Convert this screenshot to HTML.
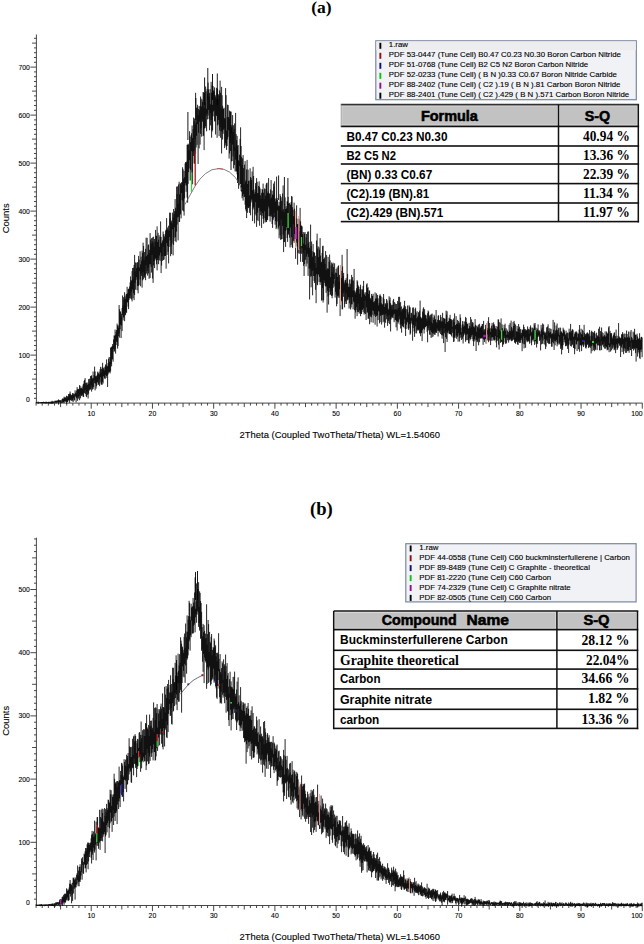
<!DOCTYPE html>
<html><head><meta charset="utf-8"><style>
html,body{margin:0;padding:0;background:#fff;}
body{width:644px;height:944px;overflow:hidden;position:relative;}
svg{position:absolute;left:0;top:0;}
text{font-family:"Liberation Sans",sans-serif;}
.tl{font-size:6.8px;fill:#000;stroke:#000;stroke-width:0.1px;}
.at{font-size:9.45px;fill:#000;stroke:#000;stroke-width:0.1px;}
.ttl{font-family:"Liberation Serif",serif;font-weight:bold;font-size:17px;fill:#000;}
.lg{font-size:7.85px;fill:#000;stroke:#000;stroke-width:0.12px;}
.th{font-weight:bold;font-size:13.8px;fill:#000;stroke:#000;stroke-width:0.55px;}
.tr{font-weight:bold;font-size:13.6px;fill:#000;}
.trs{font-family:"Liberation Serif",serif;font-weight:bold;font-size:14.6px;fill:#000;}
.tv{font-family:"Liberation Serif",serif;font-weight:bold;font-size:14.5px;fill:#000;}
</style></head><body>
<svg width="644" height="944" viewBox="0 0 644 944">
<line x1="36.4" y1="34.5" x2="36.4" y2="403.1" stroke="#333" stroke-width="0.9"/>
<line x1="36.1" y1="403.1" x2="642.5" y2="403.1" stroke="#333" stroke-width="0.9"/>
<line x1="34.0" y1="398.30" x2="36.4" y2="398.30" stroke="#333" stroke-width="0.9"/>
<line x1="34.0" y1="393.50" x2="36.4" y2="393.50" stroke="#333" stroke-width="0.9"/>
<line x1="34.0" y1="388.70" x2="36.4" y2="388.70" stroke="#333" stroke-width="0.9"/>
<line x1="34.0" y1="383.90" x2="36.4" y2="383.90" stroke="#333" stroke-width="0.9"/>
<line x1="32.1" y1="379.10" x2="36.4" y2="379.10" stroke="#333" stroke-width="0.9"/>
<line x1="34.0" y1="374.30" x2="36.4" y2="374.30" stroke="#333" stroke-width="0.9"/>
<line x1="34.0" y1="369.50" x2="36.4" y2="369.50" stroke="#333" stroke-width="0.9"/>
<line x1="34.0" y1="364.70" x2="36.4" y2="364.70" stroke="#333" stroke-width="0.9"/>
<line x1="34.0" y1="359.90" x2="36.4" y2="359.90" stroke="#333" stroke-width="0.9"/>
<line x1="30.4" y1="355.10" x2="36.4" y2="355.10" stroke="#333" stroke-width="0.9"/>
<line x1="34.0" y1="350.30" x2="36.4" y2="350.30" stroke="#333" stroke-width="0.9"/>
<line x1="34.0" y1="345.50" x2="36.4" y2="345.50" stroke="#333" stroke-width="0.9"/>
<line x1="34.0" y1="340.70" x2="36.4" y2="340.70" stroke="#333" stroke-width="0.9"/>
<line x1="34.0" y1="335.90" x2="36.4" y2="335.90" stroke="#333" stroke-width="0.9"/>
<line x1="32.1" y1="331.10" x2="36.4" y2="331.10" stroke="#333" stroke-width="0.9"/>
<line x1="34.0" y1="326.30" x2="36.4" y2="326.30" stroke="#333" stroke-width="0.9"/>
<line x1="34.0" y1="321.50" x2="36.4" y2="321.50" stroke="#333" stroke-width="0.9"/>
<line x1="34.0" y1="316.70" x2="36.4" y2="316.70" stroke="#333" stroke-width="0.9"/>
<line x1="34.0" y1="311.90" x2="36.4" y2="311.90" stroke="#333" stroke-width="0.9"/>
<line x1="30.4" y1="307.10" x2="36.4" y2="307.10" stroke="#333" stroke-width="0.9"/>
<line x1="34.0" y1="302.30" x2="36.4" y2="302.30" stroke="#333" stroke-width="0.9"/>
<line x1="34.0" y1="297.50" x2="36.4" y2="297.50" stroke="#333" stroke-width="0.9"/>
<line x1="34.0" y1="292.70" x2="36.4" y2="292.70" stroke="#333" stroke-width="0.9"/>
<line x1="34.0" y1="287.90" x2="36.4" y2="287.90" stroke="#333" stroke-width="0.9"/>
<line x1="32.1" y1="283.10" x2="36.4" y2="283.10" stroke="#333" stroke-width="0.9"/>
<line x1="34.0" y1="278.30" x2="36.4" y2="278.30" stroke="#333" stroke-width="0.9"/>
<line x1="34.0" y1="273.50" x2="36.4" y2="273.50" stroke="#333" stroke-width="0.9"/>
<line x1="34.0" y1="268.70" x2="36.4" y2="268.70" stroke="#333" stroke-width="0.9"/>
<line x1="34.0" y1="263.90" x2="36.4" y2="263.90" stroke="#333" stroke-width="0.9"/>
<line x1="30.4" y1="259.10" x2="36.4" y2="259.10" stroke="#333" stroke-width="0.9"/>
<line x1="34.0" y1="254.30" x2="36.4" y2="254.30" stroke="#333" stroke-width="0.9"/>
<line x1="34.0" y1="249.50" x2="36.4" y2="249.50" stroke="#333" stroke-width="0.9"/>
<line x1="34.0" y1="244.70" x2="36.4" y2="244.70" stroke="#333" stroke-width="0.9"/>
<line x1="34.0" y1="239.90" x2="36.4" y2="239.90" stroke="#333" stroke-width="0.9"/>
<line x1="32.1" y1="235.10" x2="36.4" y2="235.10" stroke="#333" stroke-width="0.9"/>
<line x1="34.0" y1="230.30" x2="36.4" y2="230.30" stroke="#333" stroke-width="0.9"/>
<line x1="34.0" y1="225.50" x2="36.4" y2="225.50" stroke="#333" stroke-width="0.9"/>
<line x1="34.0" y1="220.70" x2="36.4" y2="220.70" stroke="#333" stroke-width="0.9"/>
<line x1="34.0" y1="215.90" x2="36.4" y2="215.90" stroke="#333" stroke-width="0.9"/>
<line x1="30.4" y1="211.10" x2="36.4" y2="211.10" stroke="#333" stroke-width="0.9"/>
<line x1="34.0" y1="206.30" x2="36.4" y2="206.30" stroke="#333" stroke-width="0.9"/>
<line x1="34.0" y1="201.50" x2="36.4" y2="201.50" stroke="#333" stroke-width="0.9"/>
<line x1="34.0" y1="196.70" x2="36.4" y2="196.70" stroke="#333" stroke-width="0.9"/>
<line x1="34.0" y1="191.90" x2="36.4" y2="191.90" stroke="#333" stroke-width="0.9"/>
<line x1="32.1" y1="187.10" x2="36.4" y2="187.10" stroke="#333" stroke-width="0.9"/>
<line x1="34.0" y1="182.30" x2="36.4" y2="182.30" stroke="#333" stroke-width="0.9"/>
<line x1="34.0" y1="177.50" x2="36.4" y2="177.50" stroke="#333" stroke-width="0.9"/>
<line x1="34.0" y1="172.70" x2="36.4" y2="172.70" stroke="#333" stroke-width="0.9"/>
<line x1="34.0" y1="167.90" x2="36.4" y2="167.90" stroke="#333" stroke-width="0.9"/>
<line x1="30.4" y1="163.10" x2="36.4" y2="163.10" stroke="#333" stroke-width="0.9"/>
<line x1="34.0" y1="158.30" x2="36.4" y2="158.30" stroke="#333" stroke-width="0.9"/>
<line x1="34.0" y1="153.50" x2="36.4" y2="153.50" stroke="#333" stroke-width="0.9"/>
<line x1="34.0" y1="148.70" x2="36.4" y2="148.70" stroke="#333" stroke-width="0.9"/>
<line x1="34.0" y1="143.90" x2="36.4" y2="143.90" stroke="#333" stroke-width="0.9"/>
<line x1="32.1" y1="139.10" x2="36.4" y2="139.10" stroke="#333" stroke-width="0.9"/>
<line x1="34.0" y1="134.30" x2="36.4" y2="134.30" stroke="#333" stroke-width="0.9"/>
<line x1="34.0" y1="129.50" x2="36.4" y2="129.50" stroke="#333" stroke-width="0.9"/>
<line x1="34.0" y1="124.70" x2="36.4" y2="124.70" stroke="#333" stroke-width="0.9"/>
<line x1="34.0" y1="119.90" x2="36.4" y2="119.90" stroke="#333" stroke-width="0.9"/>
<line x1="30.4" y1="115.10" x2="36.4" y2="115.10" stroke="#333" stroke-width="0.9"/>
<line x1="34.0" y1="110.30" x2="36.4" y2="110.30" stroke="#333" stroke-width="0.9"/>
<line x1="34.0" y1="105.50" x2="36.4" y2="105.50" stroke="#333" stroke-width="0.9"/>
<line x1="34.0" y1="100.70" x2="36.4" y2="100.70" stroke="#333" stroke-width="0.9"/>
<line x1="34.0" y1="95.90" x2="36.4" y2="95.90" stroke="#333" stroke-width="0.9"/>
<line x1="32.1" y1="91.10" x2="36.4" y2="91.10" stroke="#333" stroke-width="0.9"/>
<line x1="34.0" y1="86.30" x2="36.4" y2="86.30" stroke="#333" stroke-width="0.9"/>
<line x1="34.0" y1="81.50" x2="36.4" y2="81.50" stroke="#333" stroke-width="0.9"/>
<line x1="34.0" y1="76.70" x2="36.4" y2="76.70" stroke="#333" stroke-width="0.9"/>
<line x1="34.0" y1="71.90" x2="36.4" y2="71.90" stroke="#333" stroke-width="0.9"/>
<line x1="30.4" y1="67.10" x2="36.4" y2="67.10" stroke="#333" stroke-width="0.9"/>
<line x1="34.0" y1="62.30" x2="36.4" y2="62.30" stroke="#333" stroke-width="0.9"/>
<line x1="34.0" y1="57.50" x2="36.4" y2="57.50" stroke="#333" stroke-width="0.9"/>
<line x1="34.0" y1="52.70" x2="36.4" y2="52.70" stroke="#333" stroke-width="0.9"/>
<line x1="34.0" y1="47.90" x2="36.4" y2="47.90" stroke="#333" stroke-width="0.9"/>
<line x1="32.1" y1="43.10" x2="36.4" y2="43.10" stroke="#333" stroke-width="0.9"/>
<line x1="34.0" y1="38.30" x2="36.4" y2="38.30" stroke="#333" stroke-width="0.9"/>
<line x1="36.10" y1="403.1" x2="36.10" y2="405.6" stroke="#333" stroke-width="0.9"/>
<line x1="42.22" y1="403.1" x2="42.22" y2="405.6" stroke="#333" stroke-width="0.9"/>
<line x1="48.35" y1="403.1" x2="48.35" y2="405.6" stroke="#333" stroke-width="0.9"/>
<line x1="54.47" y1="403.1" x2="54.47" y2="405.6" stroke="#333" stroke-width="0.9"/>
<line x1="60.59" y1="403.1" x2="60.59" y2="407.1" stroke="#333" stroke-width="0.9"/>
<line x1="66.72" y1="403.1" x2="66.72" y2="405.6" stroke="#333" stroke-width="0.9"/>
<line x1="72.84" y1="403.1" x2="72.84" y2="405.6" stroke="#333" stroke-width="0.9"/>
<line x1="78.96" y1="403.1" x2="78.96" y2="405.6" stroke="#333" stroke-width="0.9"/>
<line x1="85.08" y1="403.1" x2="85.08" y2="405.6" stroke="#333" stroke-width="0.9"/>
<line x1="91.21" y1="403.1" x2="91.21" y2="408.7" stroke="#333" stroke-width="0.9"/>
<line x1="97.33" y1="403.1" x2="97.33" y2="405.6" stroke="#333" stroke-width="0.9"/>
<line x1="103.45" y1="403.1" x2="103.45" y2="405.6" stroke="#333" stroke-width="0.9"/>
<line x1="109.58" y1="403.1" x2="109.58" y2="405.6" stroke="#333" stroke-width="0.9"/>
<line x1="115.70" y1="403.1" x2="115.70" y2="405.6" stroke="#333" stroke-width="0.9"/>
<line x1="121.82" y1="403.1" x2="121.82" y2="407.1" stroke="#333" stroke-width="0.9"/>
<line x1="127.94" y1="403.1" x2="127.94" y2="405.6" stroke="#333" stroke-width="0.9"/>
<line x1="134.07" y1="403.1" x2="134.07" y2="405.6" stroke="#333" stroke-width="0.9"/>
<line x1="140.19" y1="403.1" x2="140.19" y2="405.6" stroke="#333" stroke-width="0.9"/>
<line x1="146.31" y1="403.1" x2="146.31" y2="405.6" stroke="#333" stroke-width="0.9"/>
<line x1="152.44" y1="403.1" x2="152.44" y2="408.7" stroke="#333" stroke-width="0.9"/>
<line x1="158.56" y1="403.1" x2="158.56" y2="405.6" stroke="#333" stroke-width="0.9"/>
<line x1="164.68" y1="403.1" x2="164.68" y2="405.6" stroke="#333" stroke-width="0.9"/>
<line x1="170.81" y1="403.1" x2="170.81" y2="405.6" stroke="#333" stroke-width="0.9"/>
<line x1="176.93" y1="403.1" x2="176.93" y2="405.6" stroke="#333" stroke-width="0.9"/>
<line x1="183.05" y1="403.1" x2="183.05" y2="407.1" stroke="#333" stroke-width="0.9"/>
<line x1="189.18" y1="403.1" x2="189.18" y2="405.6" stroke="#333" stroke-width="0.9"/>
<line x1="195.30" y1="403.1" x2="195.30" y2="405.6" stroke="#333" stroke-width="0.9"/>
<line x1="201.42" y1="403.1" x2="201.42" y2="405.6" stroke="#333" stroke-width="0.9"/>
<line x1="207.54" y1="403.1" x2="207.54" y2="405.6" stroke="#333" stroke-width="0.9"/>
<line x1="213.67" y1="403.1" x2="213.67" y2="408.7" stroke="#333" stroke-width="0.9"/>
<line x1="219.79" y1="403.1" x2="219.79" y2="405.6" stroke="#333" stroke-width="0.9"/>
<line x1="225.91" y1="403.1" x2="225.91" y2="405.6" stroke="#333" stroke-width="0.9"/>
<line x1="232.04" y1="403.1" x2="232.04" y2="405.6" stroke="#333" stroke-width="0.9"/>
<line x1="238.16" y1="403.1" x2="238.16" y2="405.6" stroke="#333" stroke-width="0.9"/>
<line x1="244.28" y1="403.1" x2="244.28" y2="407.1" stroke="#333" stroke-width="0.9"/>
<line x1="250.41" y1="403.1" x2="250.41" y2="405.6" stroke="#333" stroke-width="0.9"/>
<line x1="256.53" y1="403.1" x2="256.53" y2="405.6" stroke="#333" stroke-width="0.9"/>
<line x1="262.65" y1="403.1" x2="262.65" y2="405.6" stroke="#333" stroke-width="0.9"/>
<line x1="268.77" y1="403.1" x2="268.77" y2="405.6" stroke="#333" stroke-width="0.9"/>
<line x1="274.90" y1="403.1" x2="274.90" y2="408.7" stroke="#333" stroke-width="0.9"/>
<line x1="281.02" y1="403.1" x2="281.02" y2="405.6" stroke="#333" stroke-width="0.9"/>
<line x1="287.14" y1="403.1" x2="287.14" y2="405.6" stroke="#333" stroke-width="0.9"/>
<line x1="293.27" y1="403.1" x2="293.27" y2="405.6" stroke="#333" stroke-width="0.9"/>
<line x1="299.39" y1="403.1" x2="299.39" y2="405.6" stroke="#333" stroke-width="0.9"/>
<line x1="305.51" y1="403.1" x2="305.51" y2="407.1" stroke="#333" stroke-width="0.9"/>
<line x1="311.64" y1="403.1" x2="311.64" y2="405.6" stroke="#333" stroke-width="0.9"/>
<line x1="317.76" y1="403.1" x2="317.76" y2="405.6" stroke="#333" stroke-width="0.9"/>
<line x1="323.88" y1="403.1" x2="323.88" y2="405.6" stroke="#333" stroke-width="0.9"/>
<line x1="330.00" y1="403.1" x2="330.00" y2="405.6" stroke="#333" stroke-width="0.9"/>
<line x1="336.13" y1="403.1" x2="336.13" y2="408.7" stroke="#333" stroke-width="0.9"/>
<line x1="342.25" y1="403.1" x2="342.25" y2="405.6" stroke="#333" stroke-width="0.9"/>
<line x1="348.37" y1="403.1" x2="348.37" y2="405.6" stroke="#333" stroke-width="0.9"/>
<line x1="354.50" y1="403.1" x2="354.50" y2="405.6" stroke="#333" stroke-width="0.9"/>
<line x1="360.62" y1="403.1" x2="360.62" y2="405.6" stroke="#333" stroke-width="0.9"/>
<line x1="366.74" y1="403.1" x2="366.74" y2="407.1" stroke="#333" stroke-width="0.9"/>
<line x1="372.87" y1="403.1" x2="372.87" y2="405.6" stroke="#333" stroke-width="0.9"/>
<line x1="378.99" y1="403.1" x2="378.99" y2="405.6" stroke="#333" stroke-width="0.9"/>
<line x1="385.11" y1="403.1" x2="385.11" y2="405.6" stroke="#333" stroke-width="0.9"/>
<line x1="391.23" y1="403.1" x2="391.23" y2="405.6" stroke="#333" stroke-width="0.9"/>
<line x1="397.36" y1="403.1" x2="397.36" y2="408.7" stroke="#333" stroke-width="0.9"/>
<line x1="403.48" y1="403.1" x2="403.48" y2="405.6" stroke="#333" stroke-width="0.9"/>
<line x1="409.60" y1="403.1" x2="409.60" y2="405.6" stroke="#333" stroke-width="0.9"/>
<line x1="415.73" y1="403.1" x2="415.73" y2="405.6" stroke="#333" stroke-width="0.9"/>
<line x1="421.85" y1="403.1" x2="421.85" y2="405.6" stroke="#333" stroke-width="0.9"/>
<line x1="427.97" y1="403.1" x2="427.97" y2="407.1" stroke="#333" stroke-width="0.9"/>
<line x1="434.10" y1="403.1" x2="434.10" y2="405.6" stroke="#333" stroke-width="0.9"/>
<line x1="440.22" y1="403.1" x2="440.22" y2="405.6" stroke="#333" stroke-width="0.9"/>
<line x1="446.34" y1="403.1" x2="446.34" y2="405.6" stroke="#333" stroke-width="0.9"/>
<line x1="452.46" y1="403.1" x2="452.46" y2="405.6" stroke="#333" stroke-width="0.9"/>
<line x1="458.59" y1="403.1" x2="458.59" y2="408.7" stroke="#333" stroke-width="0.9"/>
<line x1="464.71" y1="403.1" x2="464.71" y2="405.6" stroke="#333" stroke-width="0.9"/>
<line x1="470.83" y1="403.1" x2="470.83" y2="405.6" stroke="#333" stroke-width="0.9"/>
<line x1="476.96" y1="403.1" x2="476.96" y2="405.6" stroke="#333" stroke-width="0.9"/>
<line x1="483.08" y1="403.1" x2="483.08" y2="405.6" stroke="#333" stroke-width="0.9"/>
<line x1="489.20" y1="403.1" x2="489.20" y2="407.1" stroke="#333" stroke-width="0.9"/>
<line x1="495.33" y1="403.1" x2="495.33" y2="405.6" stroke="#333" stroke-width="0.9"/>
<line x1="501.45" y1="403.1" x2="501.45" y2="405.6" stroke="#333" stroke-width="0.9"/>
<line x1="507.57" y1="403.1" x2="507.57" y2="405.6" stroke="#333" stroke-width="0.9"/>
<line x1="513.69" y1="403.1" x2="513.69" y2="405.6" stroke="#333" stroke-width="0.9"/>
<line x1="519.82" y1="403.1" x2="519.82" y2="408.7" stroke="#333" stroke-width="0.9"/>
<line x1="525.94" y1="403.1" x2="525.94" y2="405.6" stroke="#333" stroke-width="0.9"/>
<line x1="532.06" y1="403.1" x2="532.06" y2="405.6" stroke="#333" stroke-width="0.9"/>
<line x1="538.19" y1="403.1" x2="538.19" y2="405.6" stroke="#333" stroke-width="0.9"/>
<line x1="544.31" y1="403.1" x2="544.31" y2="405.6" stroke="#333" stroke-width="0.9"/>
<line x1="550.43" y1="403.1" x2="550.43" y2="407.1" stroke="#333" stroke-width="0.9"/>
<line x1="556.56" y1="403.1" x2="556.56" y2="405.6" stroke="#333" stroke-width="0.9"/>
<line x1="562.68" y1="403.1" x2="562.68" y2="405.6" stroke="#333" stroke-width="0.9"/>
<line x1="568.80" y1="403.1" x2="568.80" y2="405.6" stroke="#333" stroke-width="0.9"/>
<line x1="574.92" y1="403.1" x2="574.92" y2="405.6" stroke="#333" stroke-width="0.9"/>
<line x1="581.05" y1="403.1" x2="581.05" y2="408.7" stroke="#333" stroke-width="0.9"/>
<line x1="587.17" y1="403.1" x2="587.17" y2="405.6" stroke="#333" stroke-width="0.9"/>
<line x1="593.29" y1="403.1" x2="593.29" y2="405.6" stroke="#333" stroke-width="0.9"/>
<line x1="599.42" y1="403.1" x2="599.42" y2="405.6" stroke="#333" stroke-width="0.9"/>
<line x1="605.54" y1="403.1" x2="605.54" y2="405.6" stroke="#333" stroke-width="0.9"/>
<line x1="611.66" y1="403.1" x2="611.66" y2="407.1" stroke="#333" stroke-width="0.9"/>
<line x1="617.79" y1="403.1" x2="617.79" y2="405.6" stroke="#333" stroke-width="0.9"/>
<line x1="623.91" y1="403.1" x2="623.91" y2="405.6" stroke="#333" stroke-width="0.9"/>
<line x1="630.03" y1="403.1" x2="630.03" y2="405.6" stroke="#333" stroke-width="0.9"/>
<line x1="636.15" y1="403.1" x2="636.15" y2="405.6" stroke="#333" stroke-width="0.9"/>
<line x1="642.28" y1="403.1" x2="642.28" y2="408.7" stroke="#333" stroke-width="0.9"/>
<text x="29.9" y="402.1" text-anchor="end" class="tl">0</text>
<text x="29.9" y="357.6" text-anchor="end" class="tl">100</text>
<text x="29.9" y="309.6" text-anchor="end" class="tl">200</text>
<text x="29.9" y="261.6" text-anchor="end" class="tl">300</text>
<text x="29.9" y="213.6" text-anchor="end" class="tl">400</text>
<text x="29.9" y="165.6" text-anchor="end" class="tl">500</text>
<text x="29.9" y="117.6" text-anchor="end" class="tl">600</text>
<text x="29.9" y="69.6" text-anchor="end" class="tl">700</text>
<text x="91.2" y="415.7" text-anchor="middle" class="tl">10</text>
<text x="152.4" y="415.7" text-anchor="middle" class="tl">20</text>
<text x="213.7" y="415.7" text-anchor="middle" class="tl">30</text>
<text x="274.9" y="415.7" text-anchor="middle" class="tl">40</text>
<text x="336.1" y="415.7" text-anchor="middle" class="tl">50</text>
<text x="397.4" y="415.7" text-anchor="middle" class="tl">60</text>
<text x="458.6" y="415.7" text-anchor="middle" class="tl">70</text>
<text x="519.8" y="415.7" text-anchor="middle" class="tl">80</text>
<text x="581.0" y="415.7" text-anchor="middle" class="tl">90</text>
<text x="642.6" y="415.7" text-anchor="end" class="tl">100</text>
<line x1="36.4" y1="537.7" x2="36.4" y2="905.5" stroke="#333" stroke-width="0.9"/>
<line x1="36.1" y1="905.5" x2="642.5" y2="905.5" stroke="#333" stroke-width="0.9"/>
<line x1="34.0" y1="899.18" x2="36.4" y2="899.18" stroke="#333" stroke-width="0.9"/>
<line x1="34.0" y1="892.86" x2="36.4" y2="892.86" stroke="#333" stroke-width="0.9"/>
<line x1="34.0" y1="886.54" x2="36.4" y2="886.54" stroke="#333" stroke-width="0.9"/>
<line x1="34.0" y1="880.22" x2="36.4" y2="880.22" stroke="#333" stroke-width="0.9"/>
<line x1="32.1" y1="873.90" x2="36.4" y2="873.90" stroke="#333" stroke-width="0.9"/>
<line x1="34.0" y1="867.58" x2="36.4" y2="867.58" stroke="#333" stroke-width="0.9"/>
<line x1="34.0" y1="861.26" x2="36.4" y2="861.26" stroke="#333" stroke-width="0.9"/>
<line x1="34.0" y1="854.94" x2="36.4" y2="854.94" stroke="#333" stroke-width="0.9"/>
<line x1="34.0" y1="848.62" x2="36.4" y2="848.62" stroke="#333" stroke-width="0.9"/>
<line x1="30.4" y1="842.30" x2="36.4" y2="842.30" stroke="#333" stroke-width="0.9"/>
<line x1="34.0" y1="835.98" x2="36.4" y2="835.98" stroke="#333" stroke-width="0.9"/>
<line x1="34.0" y1="829.66" x2="36.4" y2="829.66" stroke="#333" stroke-width="0.9"/>
<line x1="34.0" y1="823.34" x2="36.4" y2="823.34" stroke="#333" stroke-width="0.9"/>
<line x1="34.0" y1="817.02" x2="36.4" y2="817.02" stroke="#333" stroke-width="0.9"/>
<line x1="32.1" y1="810.70" x2="36.4" y2="810.70" stroke="#333" stroke-width="0.9"/>
<line x1="34.0" y1="804.38" x2="36.4" y2="804.38" stroke="#333" stroke-width="0.9"/>
<line x1="34.0" y1="798.06" x2="36.4" y2="798.06" stroke="#333" stroke-width="0.9"/>
<line x1="34.0" y1="791.74" x2="36.4" y2="791.74" stroke="#333" stroke-width="0.9"/>
<line x1="34.0" y1="785.42" x2="36.4" y2="785.42" stroke="#333" stroke-width="0.9"/>
<line x1="30.4" y1="779.10" x2="36.4" y2="779.10" stroke="#333" stroke-width="0.9"/>
<line x1="34.0" y1="772.78" x2="36.4" y2="772.78" stroke="#333" stroke-width="0.9"/>
<line x1="34.0" y1="766.46" x2="36.4" y2="766.46" stroke="#333" stroke-width="0.9"/>
<line x1="34.0" y1="760.14" x2="36.4" y2="760.14" stroke="#333" stroke-width="0.9"/>
<line x1="34.0" y1="753.82" x2="36.4" y2="753.82" stroke="#333" stroke-width="0.9"/>
<line x1="32.1" y1="747.50" x2="36.4" y2="747.50" stroke="#333" stroke-width="0.9"/>
<line x1="34.0" y1="741.18" x2="36.4" y2="741.18" stroke="#333" stroke-width="0.9"/>
<line x1="34.0" y1="734.86" x2="36.4" y2="734.86" stroke="#333" stroke-width="0.9"/>
<line x1="34.0" y1="728.54" x2="36.4" y2="728.54" stroke="#333" stroke-width="0.9"/>
<line x1="34.0" y1="722.22" x2="36.4" y2="722.22" stroke="#333" stroke-width="0.9"/>
<line x1="30.4" y1="715.90" x2="36.4" y2="715.90" stroke="#333" stroke-width="0.9"/>
<line x1="34.0" y1="709.58" x2="36.4" y2="709.58" stroke="#333" stroke-width="0.9"/>
<line x1="34.0" y1="703.26" x2="36.4" y2="703.26" stroke="#333" stroke-width="0.9"/>
<line x1="34.0" y1="696.94" x2="36.4" y2="696.94" stroke="#333" stroke-width="0.9"/>
<line x1="34.0" y1="690.62" x2="36.4" y2="690.62" stroke="#333" stroke-width="0.9"/>
<line x1="32.1" y1="684.30" x2="36.4" y2="684.30" stroke="#333" stroke-width="0.9"/>
<line x1="34.0" y1="677.98" x2="36.4" y2="677.98" stroke="#333" stroke-width="0.9"/>
<line x1="34.0" y1="671.66" x2="36.4" y2="671.66" stroke="#333" stroke-width="0.9"/>
<line x1="34.0" y1="665.34" x2="36.4" y2="665.34" stroke="#333" stroke-width="0.9"/>
<line x1="34.0" y1="659.02" x2="36.4" y2="659.02" stroke="#333" stroke-width="0.9"/>
<line x1="30.4" y1="652.70" x2="36.4" y2="652.70" stroke="#333" stroke-width="0.9"/>
<line x1="34.0" y1="646.38" x2="36.4" y2="646.38" stroke="#333" stroke-width="0.9"/>
<line x1="34.0" y1="640.06" x2="36.4" y2="640.06" stroke="#333" stroke-width="0.9"/>
<line x1="34.0" y1="633.74" x2="36.4" y2="633.74" stroke="#333" stroke-width="0.9"/>
<line x1="34.0" y1="627.42" x2="36.4" y2="627.42" stroke="#333" stroke-width="0.9"/>
<line x1="32.1" y1="621.10" x2="36.4" y2="621.10" stroke="#333" stroke-width="0.9"/>
<line x1="34.0" y1="614.78" x2="36.4" y2="614.78" stroke="#333" stroke-width="0.9"/>
<line x1="34.0" y1="608.46" x2="36.4" y2="608.46" stroke="#333" stroke-width="0.9"/>
<line x1="34.0" y1="602.14" x2="36.4" y2="602.14" stroke="#333" stroke-width="0.9"/>
<line x1="34.0" y1="595.82" x2="36.4" y2="595.82" stroke="#333" stroke-width="0.9"/>
<line x1="30.4" y1="589.50" x2="36.4" y2="589.50" stroke="#333" stroke-width="0.9"/>
<line x1="34.0" y1="583.18" x2="36.4" y2="583.18" stroke="#333" stroke-width="0.9"/>
<line x1="34.0" y1="576.86" x2="36.4" y2="576.86" stroke="#333" stroke-width="0.9"/>
<line x1="34.0" y1="570.54" x2="36.4" y2="570.54" stroke="#333" stroke-width="0.9"/>
<line x1="34.0" y1="564.22" x2="36.4" y2="564.22" stroke="#333" stroke-width="0.9"/>
<line x1="32.1" y1="557.90" x2="36.4" y2="557.90" stroke="#333" stroke-width="0.9"/>
<line x1="34.0" y1="551.58" x2="36.4" y2="551.58" stroke="#333" stroke-width="0.9"/>
<line x1="34.0" y1="545.26" x2="36.4" y2="545.26" stroke="#333" stroke-width="0.9"/>
<line x1="34.0" y1="538.94" x2="36.4" y2="538.94" stroke="#333" stroke-width="0.9"/>
<line x1="36.10" y1="905.5" x2="36.10" y2="908.0" stroke="#333" stroke-width="0.9"/>
<line x1="42.22" y1="905.5" x2="42.22" y2="908.0" stroke="#333" stroke-width="0.9"/>
<line x1="48.35" y1="905.5" x2="48.35" y2="908.0" stroke="#333" stroke-width="0.9"/>
<line x1="54.47" y1="905.5" x2="54.47" y2="908.0" stroke="#333" stroke-width="0.9"/>
<line x1="60.59" y1="905.5" x2="60.59" y2="909.5" stroke="#333" stroke-width="0.9"/>
<line x1="66.72" y1="905.5" x2="66.72" y2="908.0" stroke="#333" stroke-width="0.9"/>
<line x1="72.84" y1="905.5" x2="72.84" y2="908.0" stroke="#333" stroke-width="0.9"/>
<line x1="78.96" y1="905.5" x2="78.96" y2="908.0" stroke="#333" stroke-width="0.9"/>
<line x1="85.08" y1="905.5" x2="85.08" y2="908.0" stroke="#333" stroke-width="0.9"/>
<line x1="91.21" y1="905.5" x2="91.21" y2="911.1" stroke="#333" stroke-width="0.9"/>
<line x1="97.33" y1="905.5" x2="97.33" y2="908.0" stroke="#333" stroke-width="0.9"/>
<line x1="103.45" y1="905.5" x2="103.45" y2="908.0" stroke="#333" stroke-width="0.9"/>
<line x1="109.58" y1="905.5" x2="109.58" y2="908.0" stroke="#333" stroke-width="0.9"/>
<line x1="115.70" y1="905.5" x2="115.70" y2="908.0" stroke="#333" stroke-width="0.9"/>
<line x1="121.82" y1="905.5" x2="121.82" y2="909.5" stroke="#333" stroke-width="0.9"/>
<line x1="127.94" y1="905.5" x2="127.94" y2="908.0" stroke="#333" stroke-width="0.9"/>
<line x1="134.07" y1="905.5" x2="134.07" y2="908.0" stroke="#333" stroke-width="0.9"/>
<line x1="140.19" y1="905.5" x2="140.19" y2="908.0" stroke="#333" stroke-width="0.9"/>
<line x1="146.31" y1="905.5" x2="146.31" y2="908.0" stroke="#333" stroke-width="0.9"/>
<line x1="152.44" y1="905.5" x2="152.44" y2="911.1" stroke="#333" stroke-width="0.9"/>
<line x1="158.56" y1="905.5" x2="158.56" y2="908.0" stroke="#333" stroke-width="0.9"/>
<line x1="164.68" y1="905.5" x2="164.68" y2="908.0" stroke="#333" stroke-width="0.9"/>
<line x1="170.81" y1="905.5" x2="170.81" y2="908.0" stroke="#333" stroke-width="0.9"/>
<line x1="176.93" y1="905.5" x2="176.93" y2="908.0" stroke="#333" stroke-width="0.9"/>
<line x1="183.05" y1="905.5" x2="183.05" y2="909.5" stroke="#333" stroke-width="0.9"/>
<line x1="189.18" y1="905.5" x2="189.18" y2="908.0" stroke="#333" stroke-width="0.9"/>
<line x1="195.30" y1="905.5" x2="195.30" y2="908.0" stroke="#333" stroke-width="0.9"/>
<line x1="201.42" y1="905.5" x2="201.42" y2="908.0" stroke="#333" stroke-width="0.9"/>
<line x1="207.54" y1="905.5" x2="207.54" y2="908.0" stroke="#333" stroke-width="0.9"/>
<line x1="213.67" y1="905.5" x2="213.67" y2="911.1" stroke="#333" stroke-width="0.9"/>
<line x1="219.79" y1="905.5" x2="219.79" y2="908.0" stroke="#333" stroke-width="0.9"/>
<line x1="225.91" y1="905.5" x2="225.91" y2="908.0" stroke="#333" stroke-width="0.9"/>
<line x1="232.04" y1="905.5" x2="232.04" y2="908.0" stroke="#333" stroke-width="0.9"/>
<line x1="238.16" y1="905.5" x2="238.16" y2="908.0" stroke="#333" stroke-width="0.9"/>
<line x1="244.28" y1="905.5" x2="244.28" y2="909.5" stroke="#333" stroke-width="0.9"/>
<line x1="250.41" y1="905.5" x2="250.41" y2="908.0" stroke="#333" stroke-width="0.9"/>
<line x1="256.53" y1="905.5" x2="256.53" y2="908.0" stroke="#333" stroke-width="0.9"/>
<line x1="262.65" y1="905.5" x2="262.65" y2="908.0" stroke="#333" stroke-width="0.9"/>
<line x1="268.77" y1="905.5" x2="268.77" y2="908.0" stroke="#333" stroke-width="0.9"/>
<line x1="274.90" y1="905.5" x2="274.90" y2="911.1" stroke="#333" stroke-width="0.9"/>
<line x1="281.02" y1="905.5" x2="281.02" y2="908.0" stroke="#333" stroke-width="0.9"/>
<line x1="287.14" y1="905.5" x2="287.14" y2="908.0" stroke="#333" stroke-width="0.9"/>
<line x1="293.27" y1="905.5" x2="293.27" y2="908.0" stroke="#333" stroke-width="0.9"/>
<line x1="299.39" y1="905.5" x2="299.39" y2="908.0" stroke="#333" stroke-width="0.9"/>
<line x1="305.51" y1="905.5" x2="305.51" y2="909.5" stroke="#333" stroke-width="0.9"/>
<line x1="311.64" y1="905.5" x2="311.64" y2="908.0" stroke="#333" stroke-width="0.9"/>
<line x1="317.76" y1="905.5" x2="317.76" y2="908.0" stroke="#333" stroke-width="0.9"/>
<line x1="323.88" y1="905.5" x2="323.88" y2="908.0" stroke="#333" stroke-width="0.9"/>
<line x1="330.00" y1="905.5" x2="330.00" y2="908.0" stroke="#333" stroke-width="0.9"/>
<line x1="336.13" y1="905.5" x2="336.13" y2="911.1" stroke="#333" stroke-width="0.9"/>
<line x1="342.25" y1="905.5" x2="342.25" y2="908.0" stroke="#333" stroke-width="0.9"/>
<line x1="348.37" y1="905.5" x2="348.37" y2="908.0" stroke="#333" stroke-width="0.9"/>
<line x1="354.50" y1="905.5" x2="354.50" y2="908.0" stroke="#333" stroke-width="0.9"/>
<line x1="360.62" y1="905.5" x2="360.62" y2="908.0" stroke="#333" stroke-width="0.9"/>
<line x1="366.74" y1="905.5" x2="366.74" y2="909.5" stroke="#333" stroke-width="0.9"/>
<line x1="372.87" y1="905.5" x2="372.87" y2="908.0" stroke="#333" stroke-width="0.9"/>
<line x1="378.99" y1="905.5" x2="378.99" y2="908.0" stroke="#333" stroke-width="0.9"/>
<line x1="385.11" y1="905.5" x2="385.11" y2="908.0" stroke="#333" stroke-width="0.9"/>
<line x1="391.23" y1="905.5" x2="391.23" y2="908.0" stroke="#333" stroke-width="0.9"/>
<line x1="397.36" y1="905.5" x2="397.36" y2="911.1" stroke="#333" stroke-width="0.9"/>
<line x1="403.48" y1="905.5" x2="403.48" y2="908.0" stroke="#333" stroke-width="0.9"/>
<line x1="409.60" y1="905.5" x2="409.60" y2="908.0" stroke="#333" stroke-width="0.9"/>
<line x1="415.73" y1="905.5" x2="415.73" y2="908.0" stroke="#333" stroke-width="0.9"/>
<line x1="421.85" y1="905.5" x2="421.85" y2="908.0" stroke="#333" stroke-width="0.9"/>
<line x1="427.97" y1="905.5" x2="427.97" y2="909.5" stroke="#333" stroke-width="0.9"/>
<line x1="434.10" y1="905.5" x2="434.10" y2="908.0" stroke="#333" stroke-width="0.9"/>
<line x1="440.22" y1="905.5" x2="440.22" y2="908.0" stroke="#333" stroke-width="0.9"/>
<line x1="446.34" y1="905.5" x2="446.34" y2="908.0" stroke="#333" stroke-width="0.9"/>
<line x1="452.46" y1="905.5" x2="452.46" y2="908.0" stroke="#333" stroke-width="0.9"/>
<line x1="458.59" y1="905.5" x2="458.59" y2="911.1" stroke="#333" stroke-width="0.9"/>
<line x1="464.71" y1="905.5" x2="464.71" y2="908.0" stroke="#333" stroke-width="0.9"/>
<line x1="470.83" y1="905.5" x2="470.83" y2="908.0" stroke="#333" stroke-width="0.9"/>
<line x1="476.96" y1="905.5" x2="476.96" y2="908.0" stroke="#333" stroke-width="0.9"/>
<line x1="483.08" y1="905.5" x2="483.08" y2="908.0" stroke="#333" stroke-width="0.9"/>
<line x1="489.20" y1="905.5" x2="489.20" y2="909.5" stroke="#333" stroke-width="0.9"/>
<line x1="495.33" y1="905.5" x2="495.33" y2="908.0" stroke="#333" stroke-width="0.9"/>
<line x1="501.45" y1="905.5" x2="501.45" y2="908.0" stroke="#333" stroke-width="0.9"/>
<line x1="507.57" y1="905.5" x2="507.57" y2="908.0" stroke="#333" stroke-width="0.9"/>
<line x1="513.69" y1="905.5" x2="513.69" y2="908.0" stroke="#333" stroke-width="0.9"/>
<line x1="519.82" y1="905.5" x2="519.82" y2="911.1" stroke="#333" stroke-width="0.9"/>
<line x1="525.94" y1="905.5" x2="525.94" y2="908.0" stroke="#333" stroke-width="0.9"/>
<line x1="532.06" y1="905.5" x2="532.06" y2="908.0" stroke="#333" stroke-width="0.9"/>
<line x1="538.19" y1="905.5" x2="538.19" y2="908.0" stroke="#333" stroke-width="0.9"/>
<line x1="544.31" y1="905.5" x2="544.31" y2="908.0" stroke="#333" stroke-width="0.9"/>
<line x1="550.43" y1="905.5" x2="550.43" y2="909.5" stroke="#333" stroke-width="0.9"/>
<line x1="556.56" y1="905.5" x2="556.56" y2="908.0" stroke="#333" stroke-width="0.9"/>
<line x1="562.68" y1="905.5" x2="562.68" y2="908.0" stroke="#333" stroke-width="0.9"/>
<line x1="568.80" y1="905.5" x2="568.80" y2="908.0" stroke="#333" stroke-width="0.9"/>
<line x1="574.92" y1="905.5" x2="574.92" y2="908.0" stroke="#333" stroke-width="0.9"/>
<line x1="581.05" y1="905.5" x2="581.05" y2="911.1" stroke="#333" stroke-width="0.9"/>
<line x1="587.17" y1="905.5" x2="587.17" y2="908.0" stroke="#333" stroke-width="0.9"/>
<line x1="593.29" y1="905.5" x2="593.29" y2="908.0" stroke="#333" stroke-width="0.9"/>
<line x1="599.42" y1="905.5" x2="599.42" y2="908.0" stroke="#333" stroke-width="0.9"/>
<line x1="605.54" y1="905.5" x2="605.54" y2="908.0" stroke="#333" stroke-width="0.9"/>
<line x1="611.66" y1="905.5" x2="611.66" y2="909.5" stroke="#333" stroke-width="0.9"/>
<line x1="617.79" y1="905.5" x2="617.79" y2="908.0" stroke="#333" stroke-width="0.9"/>
<line x1="623.91" y1="905.5" x2="623.91" y2="908.0" stroke="#333" stroke-width="0.9"/>
<line x1="630.03" y1="905.5" x2="630.03" y2="908.0" stroke="#333" stroke-width="0.9"/>
<line x1="636.15" y1="905.5" x2="636.15" y2="908.0" stroke="#333" stroke-width="0.9"/>
<line x1="642.28" y1="905.5" x2="642.28" y2="911.1" stroke="#333" stroke-width="0.9"/>
<text x="29.9" y="904.5" text-anchor="end" class="tl">0</text>
<text x="29.9" y="844.8" text-anchor="end" class="tl">100</text>
<text x="29.9" y="781.6" text-anchor="end" class="tl">200</text>
<text x="29.9" y="718.4" text-anchor="end" class="tl">300</text>
<text x="29.9" y="655.2" text-anchor="end" class="tl">400</text>
<text x="29.9" y="592.0" text-anchor="end" class="tl">500</text>
<text x="91.2" y="918.1" text-anchor="middle" class="tl">10</text>
<text x="152.4" y="918.1" text-anchor="middle" class="tl">20</text>
<text x="213.7" y="918.1" text-anchor="middle" class="tl">30</text>
<text x="274.9" y="918.1" text-anchor="middle" class="tl">40</text>
<text x="336.1" y="918.1" text-anchor="middle" class="tl">50</text>
<text x="397.4" y="918.1" text-anchor="middle" class="tl">60</text>
<text x="458.6" y="918.1" text-anchor="middle" class="tl">70</text>
<text x="519.8" y="918.1" text-anchor="middle" class="tl">80</text>
<text x="581.0" y="918.1" text-anchor="middle" class="tl">90</text>
<text x="642.6" y="918.1" text-anchor="end" class="tl">100</text>
<text x="9" y="233.2" transform="rotate(-90 9 233.2)" class="at">Counts</text>
<text x="9" y="735.8" transform="rotate(-90 9 735.8)" class="at">Counts</text>
<text x="239.6" y="438.3" class="at">2Theta (Coupled TwoTheta/Theta) WL=1.54060</text>
<text x="239.6" y="940.3" class="at">2Theta (Coupled TwoTheta/Theta) WL=1.54060</text>
<path d="M36.10 402.3V403.2M36.60 402.5V403.0M37.10 402.5V403.0M37.60 402.3V403.3M38.10 401.6V402.9M38.60 402.3V403.7M39.10 402.1V402.8M39.60 402.3V402.8M40.10 402.4V403.1M40.60 402.2V403.1M41.10 402.2V402.8M41.60 402.0V403.3M42.10 402.1V403.1M42.60 402.0V403.1M43.10 402.4V403.1M43.60 401.7V403.2M44.10 402.0V403.1M44.60 402.0V403.2M45.10 402.4V403.5M45.60 402.2V403.0M46.10 401.5V403.9M46.60 402.1V402.9M47.10 402.2V402.8M47.60 402.1V403.3M48.10 402.1V402.9M48.60 402.1V403.4M49.10 401.6V403.1M49.60 402.3V403.6M50.10 402.3V402.7M50.60 401.7V403.2M51.10 401.9V404.1M51.60 401.6V403.2M52.10 400.8V403.1M52.60 401.7V403.6M53.10 401.5V403.6M53.60 401.5V402.6M54.10 401.9V402.8M54.60 401.3V402.6M55.10 400.6V402.5M55.60 401.0V402.7M56.10 400.7V403.5M56.60 400.7V402.5M57.10 401.2V402.5M57.60 400.3V402.4M58.10 400.6V402.7M58.60 399.4V404.7M59.10 400.0V402.6M59.60 400.7V402.1M60.10 400.0V402.6M60.60 400.5V403.4M61.10 400.2V401.4M61.60 400.7V403.0M62.10 399.1V400.9M62.60 398.4V402.9M63.10 399.1V402.2M63.60 398.5V402.4M64.10 396.7V403.1M64.60 397.9V401.3M65.10 396.9V401.6M65.60 397.7V401.4M66.10 398.0V401.8M66.60 395.7V403.7M67.10 396.0V401.9M67.60 397.2V402.2M68.10 396.3V401.2M68.60 394.0V400.1M69.10 394.5V399.8M69.60 393.6V402.8M70.10 391.5V400.5M70.60 394.1V400.0M71.10 396.0V398.6M71.60 395.0V400.7M72.10 394.6V401.2M72.60 393.0V400.0M73.10 394.7V402.0M73.60 393.4V398.3M74.10 395.6V400.8M74.60 393.9V400.0M75.10 390.3V396.2M75.60 392.6V396.6M76.10 393.7V402.4M76.60 390.5V398.2M77.10 387.1V397.5M77.60 389.2V400.8M78.10 389.5V397.1M78.60 388.9V398.7M79.10 389.4V396.0M79.60 385.1V400.2M80.10 385.9V394.4M80.60 388.1V398.3M81.10 388.8V395.7M81.60 388.0V395.7M82.10 386.5V395.8M82.60 388.8V394.6M83.10 384.5V396.9M83.60 383.7V397.0M84.10 380.9V392.6M84.60 379.9V393.3M85.10 378.1V389.8M85.60 383.1V393.9M86.10 385.5V396.2M86.60 382.8V397.1M87.10 382.4V391.7M87.60 384.9V394.8M88.10 383.8V398.5M88.60 379.1V393.8M89.10 383.6V389.1M89.60 378.7V390.5M90.10 381.1V389.7M90.60 376.1V389.2M91.10 375.9V385.4M91.60 375.3V391.6M92.10 377.7V387.3M92.60 378.8V389.6M93.10 371.5V389.0M93.60 378.1V387.0M94.10 375.0V379.9M94.60 366.6V383.2M95.10 371.5V390.4M95.60 376.1V383.6M96.10 376.9V388.6M96.60 376.1V386.2M97.10 374.9V382.2M97.60 371.7V382.4M98.10 373.4V384.9M98.60 373.4V384.6M99.10 371.7V379.5M99.60 374.3V386.2M100.10 369.2V382.4M100.60 366.8V377.2M101.10 372.6V384.4M101.60 369.1V384.5M102.10 367.4V384.9M102.60 362.8V381.9M103.10 369.9V383.5M103.60 368.2V376.0M104.10 367.3V376.9M104.60 370.3V378.4M105.10 366.5V379.1M105.60 364.4V374.9M106.10 365.4V378.0M106.60 359.4V376.1M107.10 367.0V375.5M107.60 365.8V387.0M108.10 363.1V374.4M108.60 358.7V372.6M109.10 357.1V371.5M109.60 361.9V372.3M110.10 357.1V373.4M110.60 347.6V371.3M111.10 347.7V364.1M111.60 347.0V366.4M112.10 346.1V358.8M112.60 344.1V359.5M113.10 346.2V361.7M113.60 339.4V349.1M114.10 335.4V351.9M114.60 335.8V351.0M115.10 329.5V348.9M115.60 334.8V353.6M116.10 331.7V345.0M116.60 330.0V341.7M117.10 323.6V341.9M117.60 325.7V348.6M118.10 325.2V346.2M118.60 327.6V336.2M119.10 305.0V333.5M119.60 309.2V337.6M120.10 311.6V329.2M120.60 311.5V324.8M121.10 316.6V338.1M121.60 313.8V325.5M122.10 308.0V331.1M122.60 295.5V314.9M123.10 305.4V320.4M123.60 297.2V317.6M124.10 299.5V316.6M124.60 292.2V321.2M125.10 296.3V314.3M125.60 298.7V315.2M126.10 294.4V311.8M126.60 293.9V312.9M127.10 286.8V302.0M127.60 293.3V302.5M128.10 289.4V306.7M128.60 288.7V309.1M129.10 289.0V299.8M129.60 286.4V298.0M130.10 282.4V295.6M130.60 276.4V298.6M131.10 280.0V292.1M131.60 280.8V299.5M132.10 271.1V301.4M132.60 268.0V289.6M133.10 278.5V298.2M133.60 267.7V293.1M134.10 264.9V300.1M134.60 254.9V295.0M135.10 271.3V283.0M135.60 262.4V289.7M136.10 262.8V279.8M136.60 268.1V277.1M137.10 262.6V290.2M137.60 262.2V285.8M138.10 266.8V293.3M138.60 255.9V286.0M139.10 259.5V284.9M139.60 267.7V271.2M140.10 251.3V279.5M140.60 264.4V286.3M141.10 256.7V273.5M141.60 260.5V275.9M142.10 250.7V287.7M142.60 252.9V280.4M143.10 242.7V272.1M143.60 246.0V279.3M144.10 260.0V276.6M144.60 252.0V277.7M145.10 256.7V274.9M145.60 248.8V280.2M146.10 237.7V265.2M146.60 256.1V273.6M147.10 237.8V271.1M147.60 254.8V275.6M148.10 245.3V267.8M148.60 244.4V273.4M149.10 253.1V278.8M149.60 249.8V264.3M150.10 233.1V278.0M150.60 239.5V264.2M151.10 243.8V266.9M151.60 238.1V272.6M152.10 241.3V254.9M152.60 237.4V278.5M153.10 242.6V282.9M153.60 236.7V265.4M154.10 246.6V261.0M154.60 239.0V268.1M155.10 241.5V259.3M155.60 229.9V258.3M156.10 235.6V260.5M156.60 236.0V264.3M157.10 226.4V270.4M157.60 242.0V260.0M158.10 232.8V257.7M158.60 239.7V264.2M159.10 235.2V260.1M159.60 246.7V255.5M160.10 237.0V260.9M160.60 221.4V252.6M161.10 236.9V273.1M161.60 243.3V265.6M162.10 242.4V256.2M162.60 240.4V260.9M163.10 231.5V246.9M163.60 234.2V260.0M164.10 238.6V259.5M164.60 236.4V256.1M165.10 234.1V255.5M165.60 230.6V256.0M166.10 229.7V268.7M166.60 218.1V243.0M167.10 229.7V254.9M167.60 227.5V245.9M168.10 229.7V251.7M168.60 225.7V263.4M169.10 230.8V247.0M169.60 212.6V237.0M170.10 218.2V240.5M170.60 212.7V256.2M171.10 222.3V246.4M171.60 220.6V254.1M172.10 223.3V243.6M172.60 212.6V229.3M173.10 217.4V255.4M173.60 209.0V244.9M174.10 214.2V237.7M174.60 211.2V227.4M175.10 199.1V241.1M175.60 207.7V237.1M176.10 210.4V242.2M176.60 186.6V231.6M177.10 194.1V224.6M177.60 186.4V217.5M178.10 203.7V240.4M178.60 184.4V216.9M179.10 181.7V222.0M179.60 194.3V221.9M180.10 183.5V214.7M180.60 183.3V213.9M181.10 185.0V218.4M181.60 182.3V193.0M182.10 182.1V200.0M182.60 167.3V210.5M183.10 169.3V201.3M183.60 178.5V211.4M184.10 171.0V215.6M184.60 177.1V198.4M185.10 163.4V185.3M185.60 162.0V183.2M186.10 163.1V191.8M186.60 161.6V185.6M187.10 144.8V197.5M187.60 144.8V202.7M188.10 143.7V183.9M188.60 144.6V172.2M189.10 150.5V168.5M189.60 131.2V160.1M190.10 136.7V180.6M190.60 142.1V169.9M191.10 135.3V180.1M191.60 133.3V151.2M192.10 125.5V171.8M192.60 138.0V184.3M193.10 129.1V151.7M193.60 117.5V155.9M194.10 121.3V163.4M194.60 118.5V163.8M195.10 124.6V139.3M195.60 92.8V153.6M196.10 122.5V147.5M196.60 107.9V135.9M197.10 107.5V144.9M197.60 104.8V124.1M198.10 115.1V164.0M198.60 109.0V132.8M199.10 106.2V148.4M199.60 110.2V121.7M200.10 105.8V144.6M200.60 96.5V133.9M201.10 98.6V128.3M201.60 106.5V136.7M202.10 99.6V119.5M202.60 101.9V121.8M203.10 92.0V136.1M203.60 92.4V135.6M204.10 107.6V150.1M204.60 93.0V128.4M205.10 102.5V128.1M205.60 86.5V126.4M206.10 91.2V115.6M206.60 108.8V131.3M207.10 88.9V113.4M207.60 93.7V119.4M208.10 82.5V115.5M208.60 89.4V109.9M209.10 96.7V119.1M209.60 92.9V130.3M210.10 89.1V113.0M210.60 104.3V125.4M211.10 81.8V120.0M211.60 92.7V137.7M212.10 85.3V131.6M212.60 104.8V130.1M213.10 86.1V116.3M213.60 90.5V111.5M214.10 91.5V110.2M214.60 87.4V121.2M215.10 94.9V121.6M215.60 96.5V134.5M216.10 98.8V115.1M216.60 87.8V116.1M217.10 93.6V137.8M217.60 88.7V125.4M218.10 99.0V124.6M218.60 94.3V119.9M219.10 95.7V136.2M219.60 90.4V130.5M220.10 80.6V127.1M220.60 92.8V137.8M221.10 108.3V131.3M221.60 86.8V153.5M222.10 95.2V131.4M222.60 105.8V139.5M223.10 109.1V133.8M223.60 108.7V129.8M224.10 107.7V128.5M224.60 118.1V148.1M225.10 119.2V145.4M225.60 88.1V143.2M226.10 95.2V146.5M226.60 130.6V149.9M227.10 117.1V146.0M227.60 104.7V139.4M228.10 105.1V136.8M228.60 117.0V130.3M229.10 118.5V158.6M229.60 110.6V153.5M230.10 111.4V143.0M230.60 111.8V150.9M231.10 111.6V133.3M231.60 127.2V161.4M232.10 125.4V161.1M232.60 115.1V144.6M233.10 131.8V156.5M233.60 125.2V168.4M234.10 128.8V151.0M234.60 123.4V165.0M235.10 147.0V171.4M235.60 112.9V159.6M236.10 134.0V171.5M236.60 140.2V171.3M237.10 135.9V174.4M237.60 145.7V179.1M238.10 145.0V178.7M238.60 160.3V188.8M239.10 160.9V184.9M239.60 154.7V166.2M240.10 138.9V183.9M240.60 127.3V184.0M241.10 146.0V191.2M241.60 156.8V191.6M242.10 164.9V198.2M242.60 158.3V196.0M243.10 155.1V200.6M243.60 168.1V194.0M244.10 184.3V197.0M244.60 164.7V196.8M245.10 161.1V204.7M245.60 181.6V209.3M246.10 180.0V211.3M246.60 169.4V218.1M247.10 159.9V206.7M247.60 184.0V212.8M248.10 169.6V208.0M248.60 180.9V208.1M249.10 180.6V207.1M249.60 195.4V212.9M250.10 168.3V206.0M250.60 177.1V215.3M251.10 177.9V202.5M251.60 180.1V199.4M252.10 171.5V200.7M252.60 190.1V221.1M253.10 166.8V209.5M253.60 176.0V207.6M254.10 189.5V206.6M254.60 193.9V223.4M255.10 191.9V214.3M255.60 183.1V202.2M256.10 186.0V215.6M256.60 178.1V226.9M257.10 181.8V220.0M257.60 193.2V212.6M258.10 193.1V221.1M258.60 185.9V208.0M259.10 181.4V207.4M259.60 186.8V225.7M260.10 188.6V211.4M260.60 195.3V215.2M261.10 198.9V211.3M261.60 192.8V227.9M262.10 189.0V215.8M262.60 189.8V213.0M263.10 183.6V218.9M263.60 192.7V223.7M264.10 199.1V218.3M264.60 188.4V211.4M265.10 189.1V222.5M265.60 195.6V220.3M266.10 184.6V221.9M266.60 183.2V222.1M267.10 182.7V219.7M267.60 193.1V220.1M268.10 191.5V216.3M268.60 178.1V206.4M269.10 193.2V208.5M269.60 193.8V216.2M270.10 199.2V221.7M270.60 189.4V216.3M271.10 180.1V214.5M271.60 197.5V216.7M272.10 190.7V224.0M272.60 194.6V227.9M273.10 194.7V220.2M273.60 183.5V218.3M274.10 186.6V212.8M274.60 181.3V217.1M275.10 198.3V224.7M275.60 201.6V221.1M276.10 199.1V229.1M276.60 176.6V227.6M277.10 197.9V221.6M277.60 200.0V210.6M278.10 206.6V229.3M278.60 205.4V227.5M279.10 201.9V238.3M279.60 206.0V225.7M280.10 194.1V235.4M280.60 196.0V239.8M281.10 197.3V219.7M281.60 200.9V239.4M282.10 210.7V239.0M282.60 193.5V225.9M283.10 185.4V234.7M283.60 209.2V252.1M284.10 212.2V242.2M284.60 204.1V242.0M285.10 197.4V231.2M285.60 209.0V246.9M286.10 206.1V230.1M286.60 208.4V227.1M287.10 201.3V238.0M287.60 201.5V241.9M288.10 196.9V235.1M288.60 203.5V233.9M289.10 213.7V230.9M289.60 202.9V237.7M290.10 204.3V247.5M290.60 205.0V227.6M291.10 202.0V244.9M291.60 196.0V237.1M292.10 196.7V247.0M292.60 207.2V248.1M293.10 209.8V224.1M293.60 216.0V240.9M294.10 202.6V242.8M294.60 208.7V234.1M295.10 217.9V239.1M295.60 220.4V258.8M296.10 218.2V243.2M296.60 205.3V241.7M297.10 224.4V246.5M297.60 224.0V264.7M298.10 218.6V252.9M298.60 224.1V242.2M299.10 219.2V253.8M299.60 231.2V249.0M300.10 207.9V253.4M300.60 221.4V261.8M301.10 225.3V244.3M301.60 225.9V253.8M302.10 226.4V248.3M302.60 234.3V262.0M303.10 232.0V252.8M303.60 243.6V265.9M304.10 232.3V276.0M304.60 234.0V264.1M305.10 232.2V249.9M305.60 244.7V259.8M306.10 237.3V266.5M306.60 234.0V256.7M307.10 247.6V263.6M307.60 231.7V253.9M308.10 243.4V275.9M308.60 231.4V256.9M309.10 241.9V268.7M309.60 247.7V299.5M310.10 249.6V268.4M310.60 224.6V276.6M311.10 246.1V287.3M311.60 241.5V276.2M312.10 251.1V271.1M312.60 256.7V295.3M313.10 244.0V270.4M313.60 251.9V276.0M314.10 252.6V280.9M314.60 252.6V283.0M315.10 263.0V275.9M315.60 255.8V289.8M316.10 267.7V303.2M316.60 240.5V274.1M317.10 233.6V284.6M317.60 248.6V285.2M318.10 246.3V275.3M318.60 257.1V274.0M319.10 247.3V282.0M319.60 249.8V277.0M320.10 238.1V284.9M320.60 255.6V282.4M321.10 262.7V281.5M321.60 261.8V300.6M322.10 253.0V300.3M322.60 246.1V288.1M323.10 245.7V302.6M323.60 259.1V300.3M324.10 258.9V280.1M324.60 257.5V282.8M325.10 263.8V285.6M325.60 251.1V286.5M326.10 270.0V292.8M326.60 255.1V286.5M327.10 269.4V312.7M327.60 268.3V290.8M328.10 256.9V296.4M328.60 268.7V304.5M329.10 262.0V291.9M329.60 254.5V288.1M330.10 260.3V295.1M330.60 277.1V294.5M331.10 265.4V290.7M331.60 262.5V296.0M332.10 272.3V298.3M332.60 263.8V295.5M333.10 262.6V287.9M333.60 267.0V283.9M334.10 274.2V286.5M334.60 263.3V279.4M335.10 280.2V297.6M335.60 272.6V291.8M336.10 268.9V294.6M336.60 273.0V306.3M337.10 267.5V303.9M337.60 276.9V295.8M338.10 266.2V297.6M338.60 265.4V295.7M339.10 281.6V297.8M339.60 274.8V289.1M340.10 277.5V316.1M340.60 279.6V303.8M341.10 270.8V301.4M341.60 278.1V300.5M342.10 254.8V309.4M342.60 266.5V309.2M343.10 276.0V293.4M343.60 272.9V296.8M344.10 281.7V291.2M344.60 283.5V307.4M345.10 279.9V304.0M345.60 280.2V301.6M346.10 278.2V293.5M346.60 282.7V304.0M347.10 249.0V300.5M347.60 273.9V299.5M348.10 283.5V299.6M348.60 286.8V297.2M349.10 287.1V308.6M349.60 279.5V303.3M350.10 286.9V297.5M350.60 283.7V309.5M351.10 279.3V307.5M351.60 274.9V304.4M352.10 280.4V304.3M352.60 277.1V297.1M353.10 290.6V309.3M353.60 280.5V301.5M354.10 268.9V302.5M354.60 290.6V310.2M355.10 294.1V318.7M355.60 292.3V312.5M356.10 290.4V310.1M356.60 288.2V307.1M357.10 280.2V316.1M357.60 281.5V311.9M358.10 285.2V303.8M358.60 286.4V312.0M359.10 289.1V313.6M359.60 293.6V310.4M360.10 287.0V313.4M360.60 284.7V316.2M361.10 289.1V313.6M361.60 297.0V314.0M362.10 290.2V308.9M362.60 289.3V310.1M363.10 286.0V312.1M363.60 280.9V308.4M364.10 293.6V314.6M364.60 294.8V313.1M365.10 292.2V300.7M365.60 296.1V314.0M366.10 292.7V320.0M366.60 284.4V307.4M367.10 283.3V312.6M367.60 288.0V312.4M368.10 287.2V318.9M368.60 294.0V318.5M369.10 290.4V315.8M369.60 290.7V324.2M370.10 297.8V315.0M370.60 298.5V316.7M371.10 300.1V322.3M371.60 293.9V317.3M372.10 295.9V314.8M372.60 295.9V310.4M373.10 293.8V322.8M373.60 301.9V311.0M374.10 302.8V315.8M374.60 301.1V314.3M375.10 292.4V324.7M375.60 298.9V317.0M376.10 298.0V314.9M376.60 293.4V316.1M377.10 299.0V326.5M377.60 295.0V315.4M378.10 298.3V320.1M378.60 305.4V310.9M379.10 303.1V311.8M379.60 295.6V323.4M380.10 294.3V322.1M380.60 295.8V315.9M381.10 296.6V314.6M381.60 303.3V324.6M382.10 304.7V315.2M382.60 304.3V314.9M383.10 297.5V322.3M383.60 294.0V314.5M384.10 299.1V321.5M384.60 307.0V327.7M385.10 303.3V314.5M385.60 303.6V322.8M386.10 305.2V313.8M386.60 299.0V319.3M387.10 300.5V316.1M387.60 303.1V325.9M388.10 308.5V323.0M388.60 309.7V320.9M389.10 296.3V315.0M389.60 300.3V324.1M390.10 297.5V319.3M390.60 303.1V331.5M391.10 306.5V319.4M391.60 304.8V316.8M392.10 309.3V318.0M392.60 304.8V316.9M393.10 300.4V318.2M393.60 298.9V314.7M394.10 309.6V322.2M394.60 302.1V313.8M395.10 309.5V320.3M395.60 303.6V319.9M396.10 309.1V327.3M396.60 304.0V321.1M397.10 310.1V330.6M397.60 301.1V321.7M398.10 308.1V323.6M398.60 296.9V321.8M399.10 302.7V316.3M399.60 296.8V319.4M400.10 307.3V324.7M400.60 302.1V328.5M401.10 311.5V324.2M401.60 306.4V332.7M402.10 310.4V325.3M402.60 308.9V326.1M403.10 308.9V326.9M403.60 307.7V327.4M404.10 305.3V323.6M404.60 300.8V319.4M405.10 308.7V328.6M405.60 306.3V336.0M406.10 309.1V329.0M406.60 317.5V324.7M407.10 309.4V321.5M407.60 305.5V322.4M408.10 312.2V328.5M408.60 314.3V329.9M409.10 305.3V328.3M409.60 306.7V324.2M410.10 307.4V334.7M410.60 317.6V333.5M411.10 313.3V323.2M411.60 312.8V320.7M412.10 318.1V324.4M412.60 307.6V340.7M413.10 314.9V328.1M413.60 307.4V325.1M414.10 314.6V331.4M414.60 315.1V336.9M415.10 309.1V333.3M415.60 307.7V326.4M416.10 312.6V321.7M416.60 318.3V333.4M417.10 311.2V330.6M417.60 317.3V329.4M418.10 315.9V330.5M418.60 312.1V330.2M419.10 313.1V329.1M419.60 310.6V333.3M420.10 300.6V333.3M420.60 316.8V336.2M421.10 317.8V332.3M421.60 318.7V333.1M422.10 317.6V341.1M422.60 311.5V330.3M423.10 308.7V328.1M423.60 307.3V328.8M424.10 313.4V333.5M424.60 309.2V329.6M425.10 315.6V327.4M425.60 314.7V327.0M426.10 315.3V325.9M426.60 318.5V326.1M427.10 320.7V331.8M427.60 313.2V342.3M428.10 310.6V328.0M428.60 311.6V330.4M429.10 318.4V325.5M429.60 315.4V334.5M430.10 317.2V335.0M430.60 314.6V330.3M431.10 321.7V337.9M431.60 314.3V332.0M432.10 313.5V337.2M432.60 323.3V333.4M433.10 317.5V336.6M433.60 319.9V333.7M434.10 314.7V331.4M434.60 316.3V334.6M435.10 320.0V334.9M435.60 319.1V332.4M436.10 310.0V332.8M436.60 322.2V332.9M437.10 323.3V328.3M437.60 319.8V330.7M438.10 315.7V336.5M438.60 315.3V330.7M439.10 320.8V330.8M439.60 320.0V332.6M440.10 321.4V330.8M440.60 314.9V334.1M441.10 317.1V328.4M441.60 321.6V335.1M442.10 320.8V338.7M442.60 312.8V334.8M443.10 322.0V336.1M443.60 317.9V343.1M444.10 318.3V328.1M444.60 318.9V333.3M445.10 318.7V352.0M445.60 323.7V337.1M446.10 310.6V331.4M446.60 314.7V338.8M447.10 311.3V342.0M447.60 322.0V332.7M448.10 322.4V332.8M448.60 320.9V330.7M449.10 317.7V334.2M449.60 318.7V333.8M450.10 314.8V334.0M450.60 319.0V334.3M451.10 319.0V334.8M451.60 320.4V336.4M452.10 319.8V328.8M452.60 326.7V332.8M453.10 320.2V337.6M453.60 318.5V342.0M454.10 322.0V341.5M454.60 313.4V337.5M455.10 325.2V337.8M455.60 325.2V329.4M456.10 316.1V335.7M456.60 324.1V338.8M457.10 323.7V335.4M457.60 319.9V336.9M458.10 323.2V341.7M458.60 321.1V333.0M459.10 324.8V335.4M459.60 322.6V341.6M460.10 314.3V338.2M460.60 317.7V334.8M461.10 327.7V337.0M461.60 332.3V340.0M462.10 324.7V333.6M462.60 321.1V338.7M463.10 324.4V343.5M463.60 326.6V336.5M464.10 321.4V334.5M464.60 325.7V332.9M465.10 321.6V334.5M465.60 316.9V341.8M466.10 318.0V340.1M466.60 322.1V334.7M467.10 324.0V340.1M467.60 323.7V334.1M468.10 328.5V340.2M468.60 328.5V343.2M469.10 322.8V343.6M469.60 325.8V338.2M470.10 327.9V340.3M470.60 317.0V338.9M471.10 327.1V337.0M471.60 319.4V335.4M472.10 324.3V339.2M472.60 322.1V334.8M473.10 322.7V341.2M473.60 326.8V346.1M474.10 326.3V341.6M474.60 327.6V339.0M475.10 319.1V340.5M475.60 324.8V336.3M476.10 325.9V351.0M476.60 331.7V340.0M477.10 325.5V342.2M477.60 327.1V341.5M478.10 327.5V338.5M478.60 324.6V345.3M479.10 329.2V337.5M479.60 323.8V342.2M480.10 327.8V338.6M480.60 327.5V338.4M481.10 326.2V337.7M481.60 326.2V338.2M482.10 324.3V338.8M482.60 324.0V337.6M483.10 330.2V344.9M483.60 320.9V338.9M484.10 332.2V339.9M484.60 329.4V342.1M485.10 329.2V338.7M485.60 324.8V339.1M486.10 328.1V343.7M486.60 323.1V339.6M487.10 328.1V340.2M487.60 330.0V334.5M488.10 321.1V340.6M488.60 317.2V342.2M489.10 328.8V336.9M489.60 323.0V340.5M490.10 327.8V334.8M490.60 331.9V345.1M491.10 328.8V340.6M491.60 325.7V337.5M492.10 322.9V340.8M492.60 328.5V337.3M493.10 324.7V337.0M493.60 322.3V339.7M494.10 324.1V340.9M494.60 325.5V340.0M495.10 327.8V339.8M495.60 328.7V336.0M496.10 326.0V342.5M496.60 329.3V347.4M497.10 335.6V341.0M497.60 326.6V337.3M498.10 319.4V340.1M498.60 319.6V344.7M499.10 322.0V349.5M499.60 329.6V338.6M500.10 322.7V338.6M500.60 331.3V342.9M501.10 318.4V341.9M501.60 328.9V341.8M502.10 324.4V339.1M502.60 328.2V346.9M503.10 330.3V344.6M503.60 331.2V344.2M504.10 324.9V335.7M504.60 328.4V338.2M505.10 323.7V342.4M505.60 330.8V343.8M506.10 328.2V337.6M506.60 334.8V343.4M507.10 329.6V337.3M507.60 331.1V340.3M508.10 334.4V338.0M508.60 332.1V342.6M509.10 324.8V340.1M509.60 330.7V339.4M510.10 323.1V340.5M510.60 331.3V338.7M511.10 320.6V339.6M511.60 326.9V341.2M512.10 328.3V340.5M512.60 330.5V340.5M513.10 322.1V337.2M513.60 326.0V339.3M514.10 320.9V340.1M514.60 323.4V342.5M515.10 337.6V342.9M515.60 324.5V343.8M516.10 331.2V341.3M516.60 331.6V342.1M517.10 326.0V340.2M517.60 331.8V344.4M518.10 328.6V344.9M518.60 324.0V341.7M519.10 328.4V341.7M519.60 326.7V343.0M520.10 333.0V340.4M520.60 329.0V342.9M521.10 334.9V340.1M521.60 332.8V338.3M522.10 329.6V351.2M522.60 330.2V342.8M523.10 329.4V344.2M523.60 324.6V336.5M524.10 327.0V348.4M524.60 329.1V344.2M525.10 330.7V338.4M525.60 329.2V347.8M526.10 331.1V337.3M526.60 330.1V340.6M527.10 329.6V342.2M527.60 326.4V341.5M528.10 329.8V340.2M528.60 328.8V341.1M529.10 333.9V341.9M529.60 329.5V343.8M530.10 327.1V336.5M530.60 325.4V335.4M531.10 327.6V342.8M531.60 332.4V345.3M532.10 331.7V340.3M532.60 327.6V339.8M533.10 330.6V341.5M533.60 328.5V338.9M534.10 323.4V340.3M534.60 325.4V344.9M535.10 323.0V341.1M535.60 337.8V341.2M536.10 327.7V343.8M536.60 330.2V347.5M537.10 332.4V337.5M537.60 328.6V343.9M538.10 324.4V336.7M538.60 330.4V335.5M539.10 332.3V336.7M539.60 330.4V340.9M540.10 331.5V340.0M540.60 334.3V350.4M541.10 324.9V336.4M541.60 329.7V344.4M542.10 327.7V338.4M542.60 323.4V343.8M543.10 332.1V340.5M543.60 324.4V334.8M544.10 331.4V344.1M544.60 332.6V339.0M545.10 334.5V345.2M545.60 332.7V349.1M546.10 331.6V346.7M546.60 327.3V339.7M547.10 335.7V340.9M547.60 326.5V342.9M548.10 324.3V336.6M548.60 331.2V343.6M549.10 328.2V344.1M549.60 332.7V343.6M550.10 328.5V337.4M550.60 332.0V338.5M551.10 328.9V343.9M551.60 334.2V346.7M552.10 333.6V346.6M552.60 333.4V342.1M553.10 319.9V339.2M553.60 329.7V343.4M554.10 334.5V350.0M554.60 322.3V340.8M555.10 332.9V345.3M555.60 330.4V341.0M556.10 325.5V342.2M556.60 329.2V340.0M557.10 323.5V346.3M557.60 330.3V343.6M558.10 333.7V344.7M558.60 328.2V336.6M559.10 327.6V343.0M559.60 335.1V344.4M560.10 332.5V341.9M560.60 327.6V348.9M561.10 331.2V345.8M561.60 331.9V354.4M562.10 332.8V347.8M562.60 333.3V349.9M563.10 327.7V345.2M563.60 329.6V336.2M564.10 329.7V342.0M564.60 331.5V339.8M565.10 333.9V343.4M565.60 335.1V346.2M566.10 330.6V346.1M566.60 333.3V345.6M567.10 336.8V343.8M567.60 332.5V348.9M568.10 333.1V345.8M568.60 338.5V353.0M569.10 328.7V344.6M569.60 331.8V339.6M570.10 332.5V340.7M570.60 323.9V346.1M571.10 332.8V341.1M571.60 331.0V346.6M572.10 329.7V345.1M572.60 329.2V344.4M573.10 330.2V339.9M573.60 337.0V348.0M574.10 336.2V347.7M574.60 333.7V354.2M575.10 332.1V349.1M575.60 332.4V339.9M576.10 331.1V344.4M576.60 332.3V344.3M577.10 332.6V351.0M577.60 337.3V341.4M578.10 334.0V340.9M578.60 333.5V349.3M579.10 329.6V340.3M579.60 325.0V351.8M580.10 337.9V344.8M580.60 332.4V345.0M581.10 328.7V346.1M581.60 333.9V351.1M582.10 334.8V345.3M582.60 329.7V344.2M583.10 331.1V345.5M583.60 337.0V347.1M584.10 324.8V344.5M584.60 332.8V340.7M585.10 336.0V345.7M585.60 334.1V347.9M586.10 334.9V348.6M586.60 333.4V346.9M587.10 332.7V344.5M587.60 332.5V344.7M588.10 334.6V343.6M588.60 333.5V348.1M589.10 336.7V347.4M589.60 330.0V346.6M590.10 335.7V345.5M590.60 340.4V347.8M591.10 332.2V353.4M591.60 330.7V346.0M592.10 335.7V351.2M592.60 331.8V344.3M593.10 341.8V345.6M593.60 332.4V350.3M594.10 333.0V347.1M594.60 330.9V351.2M595.10 333.6V349.0M595.60 338.2V349.9M596.10 337.6V343.1M596.60 332.7V343.7M597.10 335.2V350.1M597.60 336.4V345.3M598.10 335.7V342.1M598.60 328.7V345.2M599.10 337.0V345.9M599.60 326.7V350.2M600.10 339.6V350.5M600.60 331.1V345.7M601.10 334.4V341.1M601.60 327.5V350.1M602.10 332.1V345.5M602.60 336.5V344.7M603.10 333.1V344.1M603.60 336.6V347.2M604.10 336.0V342.1M604.60 334.9V348.6M605.10 331.4V346.0M605.60 336.8V348.7M606.10 336.1V346.1M606.60 331.5V347.4M607.10 332.7V350.3M607.60 334.0V349.6M608.10 333.1V349.7M608.60 327.4V345.1M609.10 326.1V352.2M609.60 343.3V347.1M610.10 330.9V346.4M610.60 333.2V351.6M611.10 333.7V344.4M611.60 333.1V350.3M612.10 337.4V344.4M612.60 338.7V348.7M613.10 335.8V347.6M613.60 334.6V345.3M614.10 332.7V350.2M614.60 332.5V349.6M615.10 339.2V348.5M615.60 336.1V353.1M616.10 329.6V347.6M616.60 338.7V344.3M617.10 335.7V350.0M617.60 338.2V348.8M618.10 338.8V347.7M618.60 323.1V343.4M619.10 336.3V343.7M619.60 337.6V345.8M620.10 337.5V345.1M620.60 338.5V357.0M621.10 338.0V346.1M621.60 334.4V347.5M622.10 334.2V352.1M622.60 332.1V344.4M623.10 334.3V348.4M623.60 338.9V354.2M624.10 333.5V351.2M624.60 337.2V347.9M625.10 333.7V349.2M625.60 337.4V352.9M626.10 338.0V341.6M626.60 330.5V352.8M627.10 334.0V348.9M627.60 337.3V351.2M628.10 337.9V350.0M628.60 331.5V350.8M629.10 336.5V352.8M629.60 337.9V346.9M630.10 331.7V350.0M630.60 340.6V350.2M631.10 330.0V342.5M631.60 336.9V356.0M632.10 338.1V348.4M632.60 339.7V349.0M633.10 331.6V348.1M633.60 339.7V350.6M634.10 332.5V348.2M634.60 328.8V349.4M635.10 335.2V347.6M635.60 334.6V353.1M636.10 334.9V361.6M636.60 340.0V348.5M637.10 333.7V348.0M637.60 336.5V356.6M638.10 338.7V352.2M638.60 339.1V350.0M639.10 338.1V353.5M639.60 333.2V357.9M640.10 338.5V359.1M640.60 340.1V350.1M641.10 337.0V352.1M641.60 336.8V349.2M642.10 337.6V357.2" fill="none" stroke="#000" stroke-width="0.85"/>
<path d="M36.10 904.2V905.9M36.60 905.0V905.6M37.10 904.9V905.4M37.60 904.8V905.5M38.10 904.4V906.0M38.60 905.2V905.6M39.10 904.7V905.9M39.60 904.7V905.7M40.10 904.0V905.7M40.60 904.8V906.2M41.10 904.7V905.5M41.60 904.0V905.8M42.10 904.6V905.9M42.60 904.8V905.5M43.10 904.7V905.6M43.60 904.7V905.7M44.10 904.4V905.0M44.60 904.9V906.2M45.10 904.2V905.9M45.60 904.6V905.8M46.10 904.7V905.4M46.60 904.4V905.4M47.10 904.7V906.0M47.60 904.6V905.3M48.10 904.3V905.9M48.60 904.3V905.2M49.10 904.3V905.4M49.60 904.0V905.5M50.10 904.5V905.3M50.60 903.9V905.5M51.10 904.3V905.7M51.60 903.7V905.4M52.10 904.1V906.0M52.60 903.6V905.7M53.10 903.4V906.0M53.60 904.5V905.2M54.10 903.7V906.3M54.60 903.2V905.1M55.10 904.0V906.7M55.60 902.5V904.9M56.10 902.8V905.0M56.60 902.4V904.8M57.10 902.3V905.8M57.60 902.3V904.3M58.10 902.0V903.3M58.60 902.8V905.3M59.10 901.8V905.2M59.60 899.6V904.2M60.10 901.3V906.7M60.60 899.1V903.6M61.10 900.3V904.8M61.60 899.4V904.4M62.10 897.2V902.0M62.60 896.5V905.9M63.10 897.4V903.2M63.60 894.8V901.8M64.10 896.1V904.8M64.60 893.7V902.1M65.10 894.1V903.1M65.60 893.6V902.1M66.10 894.6V900.7M66.60 888.3V899.3M67.10 889.3V900.0M67.60 890.9V897.4M68.10 890.7V901.1M68.60 889.5V900.5M69.10 887.5V900.2M69.60 883.7V893.6M70.10 880.0V894.0M70.60 884.1V896.6M71.10 883.5V891.0M71.60 885.0V903.3M72.10 886.2V894.8M72.60 882.8V900.9M73.10 877.7V884.2M73.60 877.8V893.5M74.10 879.0V889.0M74.60 880.2V887.7M75.10 877.2V899.6M75.60 878.5V887.3M76.10 882.5V887.4M76.60 874.8V884.7M77.10 873.2V883.6M77.60 865.5V880.2M78.10 875.6V886.2M78.60 870.6V882.1M79.10 867.1V886.3M79.60 866.7V881.4M80.10 864.2V882.0M80.60 871.2V879.6M81.10 866.6V875.6M81.60 858.4V871.8M82.10 860.8V879.7M82.60 857.2V864.8M83.10 864.1V873.1M83.60 862.0V873.9M84.10 853.6V864.2M84.60 854.4V864.6M85.10 851.3V868.4M85.60 848.0V868.1M86.10 850.9V872.4M86.60 848.2V865.0M87.10 844.3V856.7M87.60 842.6V863.9M88.10 844.8V869.2M88.60 842.6V861.4M89.10 842.9V853.8M89.60 844.9V857.0M90.10 843.4V852.0M90.60 842.5V850.5M91.10 838.3V857.7M91.60 834.6V863.5M92.10 830.9V851.8M92.60 833.7V854.6M93.10 836.7V860.0M93.60 831.4V847.7M94.10 836.6V851.2M94.60 820.6V852.6M95.10 834.9V849.6M95.60 833.4V844.8M96.10 821.7V860.4M96.60 826.9V838.4M97.10 817.2V845.8M97.60 817.1V843.1M98.10 827.8V846.0M98.60 827.5V848.8M99.10 828.3V840.8M99.60 809.8V842.6M100.10 828.2V849.9M100.60 817.0V841.0M101.10 809.7V838.2M101.60 818.4V840.8M102.10 808.6V833.9M102.60 813.0V841.4M103.10 809.2V836.8M103.60 821.5V834.5M104.10 822.3V834.2M104.60 808.0V832.2M105.10 815.9V853.0M105.60 809.1V836.5M106.10 812.2V834.8M106.60 803.9V825.1M107.10 808.1V832.3M107.60 809.9V823.1M108.10 799.6V826.9M108.60 800.0V820.7M109.10 801.8V837.8M109.60 803.0V828.3M110.10 789.7V823.3M110.60 794.2V812.6M111.10 790.2V821.5M111.60 805.8V821.4M112.10 794.5V831.9M112.60 796.8V817.9M113.10 797.0V810.0M113.60 794.3V825.0M114.10 773.7V816.6M114.60 778.9V813.5M115.10 783.9V821.0M115.60 782.3V813.0M116.10 783.6V812.7M116.60 781.3V810.8M117.10 787.0V824.1M117.60 781.0V804.6M118.10 781.4V801.1M118.60 782.5V809.1M119.10 766.6V801.5M119.60 780.2V798.4M120.10 780.5V807.1M120.60 770.9V785.4M121.10 775.1V793.4M121.60 762.9V792.7M122.10 763.5V796.8M122.60 765.6V796.8M123.10 775.5V792.2M123.60 777.1V801.4M124.10 759.2V780.1M124.60 761.9V779.6M125.10 765.5V788.9M125.60 759.6V780.6M126.10 766.0V779.3M126.60 754.7V792.1M127.10 758.5V784.8M127.60 756.0V784.0M128.10 753.0V770.6M128.60 764.1V780.2M129.10 738.2V774.4M129.60 746.4V768.4M130.10 757.0V772.0M130.60 747.2V770.6M131.10 747.1V782.3M131.60 757.0V782.8M132.10 746.6V768.3M132.60 738.8V767.5M133.10 754.8V767.9M133.60 736.4V775.4M134.10 735.6V758.4M134.60 741.3V763.9M135.10 734.2V763.7M135.60 736.0V767.9M136.10 740.8V765.0M136.60 752.9V777.1M137.10 743.3V769.0M137.60 738.9V766.6M138.10 739.4V764.6M138.60 747.9V762.4M139.10 732.8V762.0M139.60 732.1V756.9M140.10 741.9V754.5M140.60 734.9V771.8M141.10 721.5V762.1M141.60 738.2V768.3M142.10 734.9V761.0M142.60 730.2V760.6M143.10 752.5V762.3M143.60 729.2V756.8M144.10 736.0V758.4M144.60 729.4V761.3M145.10 736.0V761.4M145.60 723.0V754.9M146.10 724.0V770.1M146.60 714.7V765.5M147.10 727.3V748.9M147.60 728.6V761.4M148.10 729.7V752.8M148.60 724.9V764.1M149.10 736.1V763.5M149.60 714.5V756.6M150.10 726.3V760.9M150.60 720.8V746.0M151.10 725.7V753.3M151.60 720.6V756.9M152.10 729.6V752.7M152.60 727.8V748.9M153.10 717.9V760.4M153.60 702.4V744.4M154.10 732.1V752.2M154.60 707.9V752.0M155.10 720.1V760.6M155.60 707.4V760.1M156.10 707.8V756.4M156.60 713.1V748.1M157.10 704.0V746.8M157.60 727.5V750.9M158.10 709.1V746.4M158.60 713.5V737.6M159.10 721.0V734.0M159.60 709.2V745.3M160.10 711.3V734.5M160.60 706.5V728.7M161.10 703.6V734.5M161.60 708.6V743.7M162.10 719.0V733.4M162.60 693.4V747.1M163.10 707.0V749.4M163.60 707.3V728.1M164.10 707.7V735.2M164.60 686.8V746.5M165.10 712.5V730.0M165.60 694.6V728.5M166.10 686.0V721.1M166.60 697.9V737.2M167.10 688.8V738.1M167.60 684.0V725.0M168.10 687.5V732.1M168.60 679.9V713.9M169.10 699.3V709.9M169.60 692.4V703.9M170.10 684.9V715.8M170.60 675.3V715.7M171.10 693.0V708.1M171.60 684.0V723.9M172.10 691.4V724.6M172.60 667.7V703.1M173.10 679.0V711.6M173.60 667.8V710.7M174.10 682.8V699.4M174.60 682.0V706.1M175.10 662.9V693.1M175.60 675.7V698.0M176.10 655.3V704.6M176.60 664.2V694.4M177.10 672.4V710.2M177.60 676.1V699.9M178.10 653.6V683.2M178.60 670.9V701.7M179.10 665.5V701.6M179.60 654.2V692.9M180.10 662.7V683.5M180.60 637.3V689.9M181.10 640.7V691.9M181.60 643.7V712.7M182.10 646.4V683.0M182.60 647.2V666.4M183.10 649.9V676.7M183.60 652.7V670.8M184.10 636.8V677.4M184.60 633.5V663.9M185.10 648.3V682.8M185.60 623.5V665.4M186.10 631.5V658.1M186.60 637.2V673.7M187.10 615.4V659.7M187.60 631.8V658.2M188.10 619.7V655.4M188.60 616.1V649.4M189.10 600.8V641.4M189.60 602.8V639.5M190.10 616.5V650.7M190.60 620.2V635.3M191.10 603.7V637.2M191.60 607.6V620.6M192.10 606.7V633.8M192.60 606.4V633.3M193.10 597.9V626.1M193.60 602.5V633.3M194.10 606.2V625.1M194.60 592.5V623.5M195.10 577.4V632.3M195.60 608.7V617.3M196.10 601.5V614.4M196.60 583.4V622.8M197.10 591.5V614.6M197.60 589.2V610.9M198.10 589.2V612.3M198.60 582.2V626.8M199.10 606.7V622.8M199.60 591.3V630.6M200.10 592.9V628.6M200.60 601.0V638.8M201.10 603.0V637.8M201.60 611.8V650.8M202.10 627.1V649.5M202.60 636.4V661.8M203.10 623.9V671.9M203.60 632.2V653.9M204.10 625.2V683.1M204.60 630.9V657.6M205.10 638.4V660.4M205.60 633.6V661.5M206.10 638.1V662.9M206.60 604.3V688.8M207.10 644.5V683.9M207.60 634.1V667.2M208.10 620.0V669.6M208.60 624.1V682.9M209.10 652.1V667.6M209.60 631.9V666.1M210.10 641.7V682.1M210.60 643.1V685.5M211.10 636.8V684.1M211.60 634.0V680.7M212.10 655.2V679.4M212.60 649.9V677.6M213.10 647.0V679.5M213.60 648.1V668.7M214.10 638.5V682.8M214.60 640.6V680.7M215.10 647.4V675.2M215.60 645.3V686.3M216.10 656.4V688.4M216.60 652.9V697.5M217.10 661.2V698.9M217.60 652.7V686.0M218.10 654.4V680.0M218.60 633.2V671.2M219.10 658.8V688.6M219.60 669.1V697.2M220.10 654.1V703.4M220.60 671.8V702.7M221.10 674.0V691.9M221.60 668.1V703.6M222.10 661.4V683.2M222.60 663.4V694.7M223.10 679.6V697.7M223.60 659.3V692.8M224.10 666.1V695.9M224.60 664.3V703.2M225.10 671.4V692.4M225.60 654.5V696.9M226.10 666.1V712.7M226.60 679.0V700.0M227.10 663.1V698.5M227.60 675.5V711.0M228.10 673.1V712.0M228.60 686.7V720.1M229.10 693.6V726.0M229.60 679.2V697.7M230.10 671.7V715.2M230.60 686.3V709.7M231.10 681.4V730.4M231.60 687.2V720.0M232.10 687.1V718.9M232.60 688.6V713.7M233.10 676.9V719.0M233.60 689.3V709.3M234.10 676.8V707.3M234.60 671.6V712.9M235.10 696.6V708.8M235.60 693.7V719.7M236.10 696.4V721.3M236.60 689.5V730.0M237.10 681.6V722.6M237.60 704.1V721.1M238.10 677.4V709.2M238.60 702.1V720.2M239.10 695.3V725.0M239.60 705.7V725.5M240.10 703.6V731.2M240.60 687.1V726.7M241.10 700.8V728.2M241.60 709.6V724.9M242.10 702.1V731.0M242.60 710.7V721.4M243.10 705.2V729.8M243.60 702.4V738.1M244.10 703.8V738.0M244.60 711.0V742.2M245.10 703.4V739.8M245.60 715.2V741.4M246.10 712.9V763.7M246.60 708.0V744.2M247.10 706.3V752.1M247.60 713.8V740.4M248.10 703.0V748.5M248.60 708.8V742.3M249.10 715.6V746.1M249.60 716.0V741.9M250.10 718.9V756.2M250.60 715.4V741.5M251.10 710.4V743.9M251.60 720.0V759.5M252.10 706.3V743.2M252.60 730.0V751.0M253.10 713.0V758.0M253.60 728.6V757.4M254.10 726.5V757.4M254.60 726.4V752.5M255.10 731.8V744.1M255.60 728.8V746.1M256.10 728.0V746.4M256.60 716.5V746.2M257.10 720.3V754.4M257.60 733.5V749.0M258.10 732.1V752.6M258.60 741.8V763.0M259.10 719.2V755.2M259.60 734.4V758.7M260.10 735.4V742.0M260.60 726.5V760.4M261.10 736.9V764.7M261.60 733.7V759.7M262.10 736.4V754.7M262.60 736.3V772.7M263.10 738.4V760.5M263.60 722.0V764.6M264.10 744.2V759.5M264.60 721.0V765.6M265.10 728.4V776.9M265.60 732.3V759.4M266.10 740.0V761.7M266.60 743.1V768.7M267.10 734.6V755.1M267.60 733.1V753.4M268.10 741.4V768.9M268.60 737.5V761.4M269.10 735.2V760.8M269.60 741.8V764.8M270.10 742.9V761.2M270.60 741.9V778.0M271.10 748.1V763.1M271.60 741.8V766.5M272.10 750.3V766.3M272.60 742.7V757.5M273.10 736.2V766.1M273.60 753.9V769.8M274.10 742.5V773.1M274.60 743.7V766.7M275.10 751.4V762.2M275.60 748.5V770.1M276.10 745.7V771.6M276.60 749.5V768.9M277.10 744.5V785.8M277.60 757.7V781.2M278.10 765.4V780.0M278.60 751.3V776.5M279.10 750.6V771.0M279.60 761.4V777.2M280.10 756.5V777.0M280.60 756.1V777.7M281.10 757.5V770.1M281.60 765.3V777.0M282.10 759.2V784.4M282.60 766.9V783.4M283.10 760.7V792.3M283.60 749.8V801.5M284.10 755.3V792.6M284.60 774.6V795.9M285.10 739.1V782.3M285.60 756.3V783.4M286.10 759.8V782.2M286.60 768.7V799.0M287.10 755.9V782.2M287.60 767.9V780.8M288.10 776.3V790.6M288.60 769.3V796.8M289.10 774.5V797.4M289.60 763.6V783.4M290.10 772.4V788.5M290.60 762.8V799.9M291.10 777.7V804.6M291.60 774.8V796.2M292.10 761.2V791.5M292.60 774.2V801.7M293.10 769.7V803.2M293.60 782.5V797.1M294.10 771.9V800.3M294.60 770.5V789.7M295.10 774.3V795.9M295.60 786.9V798.7M296.10 771.8V797.8M296.60 776.0V801.3M297.10 772.6V808.4M297.60 774.0V800.2M298.10 779.4V810.1M298.60 795.0V808.8M299.10 786.9V803.7M299.60 789.5V817.0M300.10 785.3V801.5M300.60 783.9V809.9M301.10 784.5V819.4M301.60 775.5V809.0M302.10 789.8V811.3M302.60 786.3V815.5M303.10 783.9V816.7M303.60 785.4V803.7M304.10 784.3V808.9M304.60 783.6V818.8M305.10 790.7V807.6M305.60 793.9V821.7M306.10 797.4V812.6M306.60 798.7V818.9M307.10 797.8V816.9M307.60 791.7V814.8M308.10 794.2V818.9M308.60 805.8V823.9M309.10 796.7V813.7M309.60 800.3V817.0M310.10 793.3V817.1M310.60 803.2V832.1M311.10 789.8V813.2M311.60 796.1V835.0M312.10 792.2V817.4M312.60 790.5V827.7M313.10 796.5V815.2M313.60 789.1V832.7M314.10 794.8V822.2M314.60 803.0V830.1M315.10 797.3V827.1M315.60 801.6V821.5M316.10 802.3V831.9M316.60 797.0V816.8M317.10 805.3V820.6M317.60 784.6V821.3M318.10 800.9V825.1M318.60 812.4V825.3M319.10 803.9V818.7M319.60 800.8V829.0M320.10 805.5V828.6M320.60 808.6V822.9M321.10 795.6V822.2M321.60 810.2V834.3M322.10 806.7V829.6M322.60 798.6V832.9M323.10 813.8V832.0M323.60 803.5V826.3M324.10 811.1V827.3M324.60 808.4V819.8M325.10 809.4V829.3M325.60 803.6V827.2M326.10 815.7V837.9M326.60 808.3V832.0M327.10 809.3V836.0M327.60 814.5V833.0M328.10 811.6V830.2M328.60 815.0V836.5M329.10 812.6V829.1M329.60 817.3V844.2M330.10 806.5V835.6M330.60 810.7V828.2M331.10 805.0V829.0M331.60 806.6V829.4M332.10 814.7V839.9M332.60 805.5V842.8M333.10 823.9V835.3M333.60 810.5V826.6M334.10 818.5V835.1M334.60 814.5V838.7M335.10 821.1V845.2M335.60 817.3V846.3M336.10 815.8V837.0M336.60 827.2V841.8M337.10 815.8V848.1M337.60 821.6V836.5M338.10 824.8V843.7M338.60 824.0V840.4M339.10 820.1V834.0M339.60 820.6V840.2M340.10 823.2V835.1M340.60 820.7V835.2M341.10 825.5V846.1M341.60 831.4V852.2M342.10 830.5V836.0M342.60 816.0V841.6M343.10 830.5V846.3M343.60 826.7V852.1M344.10 829.6V848.2M344.60 826.5V854.3M345.10 822.6V847.2M345.60 822.3V842.5M346.10 826.6V855.7M346.60 820.6V845.9M347.10 825.4V847.4M347.60 827.0V839.9M348.10 826.7V857.1M348.60 835.0V856.8M349.10 823.3V849.5M349.60 834.7V848.1M350.10 832.4V847.3M350.60 836.7V845.8M351.10 828.4V854.3M351.60 831.0V847.9M352.10 833.4V853.2M352.60 834.0V849.3M353.10 834.8V853.9M353.60 833.8V848.0M354.10 834.1V854.0M354.60 844.2V854.9M355.10 838.9V856.7M355.60 833.6V855.6M356.10 844.3V860.3M356.60 838.4V853.9M357.10 834.4V854.7M357.60 830.4V859.3M358.10 840.2V857.6M358.60 836.6V854.1M359.10 841.9V854.1M359.60 833.4V860.6M360.10 841.7V866.8M360.60 838.8V859.4M361.10 835.8V862.6M361.60 842.8V872.8M362.10 845.9V870.8M362.60 844.5V862.9M363.10 845.8V870.2M363.60 843.2V860.4M364.10 846.2V855.5M364.60 844.9V861.5M365.10 850.0V861.1M365.60 847.2V859.1M366.10 848.6V861.6M366.60 846.2V861.5M367.10 851.1V872.4M367.60 851.9V861.7M368.10 845.0V865.8M368.60 849.8V870.1M369.10 848.5V870.9M369.60 847.4V868.0M370.10 852.3V870.5M370.60 851.2V871.4M371.10 850.8V864.9M371.60 855.9V877.3M372.10 854.3V872.0M372.60 858.4V872.4M373.10 858.4V870.5M373.60 852.0V871.1M374.10 854.3V870.7M374.60 857.5V869.0M375.10 860.4V867.3M375.60 858.2V878.0M376.10 859.3V873.0M376.60 854.7V872.0M377.10 860.8V880.5M377.60 852.7V871.1M378.10 863.9V880.5M378.60 858.8V880.5M379.10 861.3V877.5M379.60 857.2V872.8M380.10 863.9V876.5M380.60 861.5V872.7M381.10 865.6V879.3M381.60 865.6V874.4M382.10 867.9V877.6M382.60 863.7V880.8M383.10 866.2V875.8M383.60 868.2V879.2M384.10 868.8V875.2M384.60 866.5V876.5M385.10 867.2V880.1M385.60 869.3V877.8M386.10 868.3V883.9M386.60 869.7V879.9M387.10 874.4V878.3M387.60 863.2V879.9M388.10 868.6V877.6M388.60 867.7V882.9M389.10 869.6V879.6M389.60 872.0V884.8M390.10 874.6V878.8M390.60 872.9V881.5M391.10 873.7V881.1M391.60 867.6V886.9M392.10 869.8V876.8M392.60 872.7V885.2M393.10 871.1V881.7M393.60 866.7V885.6M394.10 870.2V880.4M394.60 871.5V883.9M395.10 873.4V891.3M395.60 868.6V886.7M396.10 871.3V887.1M396.60 873.4V885.8M397.10 872.3V884.4M397.60 875.5V887.1M398.10 875.0V887.1M398.60 879.6V886.7M399.10 878.8V887.1M399.60 877.5V885.5M400.10 877.4V886.5M400.60 874.2V886.2M401.10 876.2V889.2M401.60 876.8V890.0M402.10 876.9V885.5M402.60 877.6V886.7M403.10 876.4V888.4M403.60 870.4V887.2M404.10 875.1V889.9M404.60 882.8V889.5M405.10 878.6V888.6M405.60 879.6V888.6M406.10 880.7V888.2M406.60 883.3V890.9M407.10 878.4V891.5M407.60 880.5V888.1M408.10 882.7V892.0M408.60 878.8V888.7M409.10 877.6V888.5M409.60 879.0V887.5M410.10 878.9V892.6M410.60 881.2V893.3M411.10 884.1V887.8M411.60 882.1V888.4M412.10 883.5V893.3M412.60 884.2V892.3M413.10 882.0V890.1M413.60 882.7V887.8M414.10 886.2V895.8M414.60 877.8V891.6M415.10 882.3V890.6M415.60 884.9V892.7M416.10 881.2V892.4M416.60 886.1V892.7M417.10 884.5V892.8M417.60 886.4V893.4M418.10 883.5V892.7M418.60 885.2V895.2M419.10 884.4V890.9M419.60 886.3V892.2M420.10 886.6V894.8M420.60 885.2V894.0M421.10 886.1V895.8M421.60 882.4V895.9M422.10 889.9V892.7M422.60 886.5V896.4M423.10 888.5V896.1M423.60 888.5V893.0M424.10 887.5V895.0M424.60 887.3V894.6M425.10 888.8V896.7M425.60 888.2V896.8M426.10 892.9V898.8M426.60 888.9V896.2M427.10 883.7V894.4M427.60 891.7V897.9M428.10 890.4V897.8M428.60 887.6V899.0M429.10 889.0V897.9M429.60 888.5V894.8M430.10 891.7V897.7M430.60 890.8V897.7M431.10 890.1V897.8M431.60 889.8V899.1M432.10 891.6V899.5M432.60 889.3V897.3M433.10 888.7V901.1M433.60 889.3V895.4M434.10 891.0V898.8M434.60 892.0V897.9M435.10 889.1V900.9M435.60 890.1V902.0M436.10 890.4V900.9M436.60 891.0V898.6M437.10 893.2V897.8M437.60 890.1V896.4M438.10 895.6V899.4M438.60 894.3V898.4M439.10 896.0V900.2M439.60 894.6V901.4M440.10 893.9V899.1M440.60 892.5V901.5M441.10 894.7V900.3M441.60 896.3V902.8M442.10 895.1V905.6M442.60 892.3V899.2M443.10 894.2V901.9M443.60 890.9V901.3M444.10 892.9V901.1M444.60 892.4V902.3M445.10 892.6V899.9M445.60 893.8V899.8M446.10 893.4V900.2M446.60 894.2V898.0M447.10 893.7V897.2M447.60 891.0V904.7M448.10 895.1V900.5M448.60 898.0V900.3M449.10 895.8V901.7M449.60 895.7V902.3M450.10 895.8V902.5M450.60 896.4V902.2M451.10 895.5V903.3M451.60 895.2V901.0M452.10 893.6V901.2M452.60 897.6V903.1M453.10 897.1V901.0M453.60 896.1V899.6M454.10 893.6V899.7M454.60 896.4V900.5M455.10 895.9V900.7M455.60 897.5V903.2M456.10 899.1V904.6M456.60 897.8V901.1M457.10 898.4V902.5M457.60 897.9V901.3M458.10 898.7V903.2M458.60 899.2V905.0M459.10 898.1V904.3M459.60 894.9V900.1M460.10 897.8V901.5M460.60 898.9V902.8M461.10 897.3V903.7M461.60 898.1V906.7M462.10 897.9V903.1M462.60 897.8V904.5M463.10 898.7V902.5M463.60 898.1V902.3M464.10 895.2V904.2M464.60 897.9V900.8M465.10 900.2V904.6M465.60 896.4V900.8M466.10 898.9V903.8M466.60 899.1V905.7M467.10 898.6V904.8M467.60 899.1V904.8M468.10 899.6V904.0M468.60 899.4V904.4M469.10 900.6V904.1M469.60 900.0V903.3M470.10 899.8V903.2M470.60 898.9V902.8M471.10 898.3V902.0M471.60 898.3V903.2M472.10 901.3V905.6M472.60 898.7V903.8M473.10 900.4V905.7M473.60 899.7V904.9M474.10 901.5V902.7M474.60 899.0V906.0M475.10 896.9V903.4M475.60 899.4V905.0M476.10 899.6V904.2M476.60 900.9V903.0M477.10 900.7V903.9M477.60 900.5V905.0M478.10 899.4V903.7M478.60 899.5V902.9M479.10 899.8V905.0M479.60 899.6V903.9M480.10 901.4V905.2M480.60 901.4V904.6M481.10 899.1V904.4M481.60 901.4V904.6M482.10 902.4V904.0M482.60 902.5V905.5M483.10 900.6V904.0M483.60 901.4V906.0M484.10 900.9V905.5M484.60 901.3V904.5M485.10 901.4V903.8M485.60 901.4V904.0M486.10 902.0V905.4M486.60 900.8V904.3M487.10 901.8V904.7M487.60 901.0V903.5M488.10 900.1V906.3M488.60 902.1V904.4M489.10 900.1V904.4M489.60 900.8V904.7M490.10 902.8V905.0M490.60 903.6V905.1M491.10 902.3V904.6M491.60 902.2V903.9M492.10 902.5V904.2M492.60 902.4V905.8M493.10 902.2V904.9M493.60 902.6V905.1M494.10 901.4V906.1M494.60 902.5V906.0M495.10 903.4V905.3M495.60 901.9V904.8M496.10 902.0V904.9M496.60 903.0V905.1M497.10 903.0V904.1M497.60 902.5V904.5M498.10 903.0V905.9M498.60 902.7V904.2M499.10 902.5V905.6M499.60 901.8V905.0M500.10 900.7V905.3M500.60 900.8V905.2M501.10 902.2V903.8M501.60 901.1V905.1M502.10 902.8V904.9M502.60 903.1V905.6M503.10 903.5V904.7M503.60 903.0V904.6M504.10 902.5V905.7M504.60 902.7V905.3M505.10 902.5V904.6M505.60 901.6V905.7M506.10 902.1V905.5M506.60 902.3V904.4M507.10 903.2V904.9M507.60 902.1V905.8M508.10 902.0V905.7M508.60 902.9V905.3M509.10 902.3V904.5M509.60 902.2V904.2M510.10 903.0V905.1M510.60 902.7V905.7M511.10 902.9V905.6M511.60 902.2V904.3M512.10 903.4V906.5M512.60 903.7V906.2M513.10 903.6V906.2M513.60 901.9V905.9M514.10 903.4V905.4M514.60 901.4V905.8M515.10 901.3V904.2M515.60 902.8V905.0M516.10 901.2V906.1M516.60 903.5V905.2M517.10 903.6V904.4M517.60 903.3V905.0M518.10 902.1V904.3M518.60 903.7V905.9M519.10 903.4V906.4M519.60 902.2V905.1M520.10 902.3V905.9M520.60 903.0V905.7M521.10 902.6V904.9M521.60 903.4V905.4M522.10 903.4V907.9M522.60 903.0V905.2M523.10 903.8V905.1M523.60 901.8V904.5M524.10 903.2V906.2M524.60 903.8V906.5M525.10 903.0V905.6M525.60 903.3V904.8M526.10 902.4V905.8M526.60 904.0V905.6M527.10 902.6V904.5M527.60 903.6V904.9M528.10 904.4V906.4M528.60 902.7V905.0M529.10 904.0V906.6M529.60 902.8V905.9M530.10 902.1V906.2M530.60 903.3V905.7M531.10 903.1V904.6M531.60 902.9V906.2M532.10 903.4V905.1M532.60 903.5V905.5M533.10 903.5V905.0M533.60 904.6V905.4M534.10 903.9V904.9M534.60 903.5V905.0M535.10 903.0V905.7M535.60 902.8V905.5M536.10 903.1V905.7M536.60 902.1V904.6M537.10 901.1V906.5M537.60 903.3V905.7M538.10 902.9V904.9M538.60 903.2V905.3M539.10 901.8V905.7M539.60 902.0V904.8M540.10 902.8V905.3M540.60 903.8V906.4M541.10 903.9V905.1M541.60 903.3V905.5M542.10 903.4V905.7M542.60 903.6V905.9M543.10 903.9V906.6M543.60 902.2V905.9M544.10 903.3V905.1M544.60 902.8V905.1M545.10 900.4V904.9M545.60 904.1V906.4M546.10 903.6V906.0M546.60 903.5V905.6M547.10 903.7V906.4M547.60 903.7V905.6M548.10 901.8V904.8M548.60 903.2V906.9M549.10 902.9V905.5M549.60 902.8V905.2M550.10 902.4V905.9M550.60 903.7V904.5M551.10 903.2V905.3M551.60 902.5V906.3M552.10 902.9V906.0M552.60 904.1V906.7M553.10 903.0V905.0M553.60 902.8V905.8M554.10 903.0V906.1M554.60 903.8V905.9M555.10 903.3V906.6M555.60 901.9V905.0M556.10 902.1V905.7M556.60 904.4V906.2M557.10 904.3V906.1M557.60 902.9V906.3M558.10 903.0V905.5M558.60 904.3V906.5M559.10 904.0V905.3M559.60 902.5V904.8M560.10 902.4V904.7M560.60 903.5V906.1M561.10 903.5V904.8M561.60 903.4V905.2M562.10 902.4V905.4M562.60 904.2V905.2M563.10 903.8V905.2M563.60 903.1V905.6M564.10 903.4V905.2M564.60 904.5V905.9M565.10 904.3V905.4M565.60 902.5V905.3M566.10 903.4V904.6M566.60 902.8V905.0M567.10 904.0V905.7M567.60 903.8V905.8M568.10 904.4V905.6M568.60 902.5V905.5M569.10 904.0V905.9M569.60 903.4V905.2M570.10 903.5V906.2M570.60 901.8V906.1M571.10 903.0V906.8M571.60 903.8V905.4M572.10 902.5V904.7M572.60 903.1V906.6M573.10 903.9V904.9M573.60 903.6V905.7M574.10 904.0V904.9M574.60 903.0V905.1M575.10 903.6V906.1M575.60 904.1V907.0M576.10 904.1V905.1M576.60 903.3V905.8M577.10 903.9V905.4M577.60 903.6V905.9M578.10 902.9V904.8M578.60 903.7V906.0M579.10 903.0V905.2M579.60 903.5V906.3M580.10 903.5V905.3M580.60 903.9V906.0M581.10 903.8V905.2M581.60 903.9V905.2M582.10 903.6V905.5M582.60 903.7V905.6M583.10 903.6V905.9M583.60 902.5V904.8M584.10 903.2V905.7M584.60 904.2V905.1M585.10 902.8V906.6M585.60 904.6V906.1M586.10 904.0V906.7M586.60 902.6V905.8M587.10 904.5V906.1M587.60 903.2V907.1M588.10 903.4V906.6M588.60 903.5V904.7M589.10 904.4V906.2M589.60 903.5V906.0M590.10 903.4V905.9M590.60 903.6V906.1M591.10 902.7V906.2M591.60 904.2V906.7M592.10 903.8V905.3M592.60 903.1V905.9M593.10 904.2V905.1M593.60 902.9V905.1M594.10 904.0V906.0M594.60 904.0V905.3M595.10 902.9V906.2M595.60 902.8V904.8M596.10 904.1V905.6M596.60 903.9V904.9M597.10 903.8V905.8M597.60 904.8V906.5M598.10 903.9V905.8M598.60 903.8V906.0M599.10 904.4V905.9M599.60 904.0V906.6M600.10 904.2V906.5M600.60 902.8V905.0M601.10 903.8V906.2M601.60 904.2V906.5M602.10 903.3V906.0M602.60 903.0V904.9M603.10 903.1V905.5M603.60 903.5V904.8M604.10 903.1V905.1M604.60 903.1V905.7M605.10 903.6V905.3M605.60 904.4V905.9M606.10 904.5V905.7M606.60 903.4V905.9M607.10 903.4V905.1M607.60 904.4V906.2M608.10 903.7V906.0M608.60 903.5V906.7M609.10 903.8V905.1M609.60 903.4V905.9M610.10 903.5V905.5M610.60 903.7V905.7M611.10 903.7V905.7M611.60 903.8V905.5M612.10 904.0V906.0M612.60 902.1V905.2M613.10 902.8V906.3M613.60 903.4V904.9M614.10 903.4V906.3M614.60 903.4V905.1M615.10 902.9V905.5M615.60 903.5V904.9M616.10 904.5V906.8M616.60 903.7V905.2M617.10 903.7V905.5M617.60 904.5V905.5M618.10 903.3V907.3M618.60 903.8V905.6M619.10 904.3V906.3M619.60 903.8V905.8M620.10 903.8V906.0M620.60 904.0V905.6M621.10 903.2V906.7M621.60 902.7V905.4M622.10 903.9V905.1M622.60 903.9V906.0M623.10 903.7V904.8M623.60 903.6V905.9M624.10 904.2V906.1M624.60 903.8V905.5M625.10 904.3V906.1M625.60 903.9V905.7M626.10 903.3V906.4M626.60 904.0V905.8M627.10 903.6V906.0M627.60 903.1V905.6M628.10 904.4V906.0M628.60 904.8V905.4M629.10 904.1V906.5M629.60 903.5V905.5M630.10 904.3V905.7M630.60 903.8V906.4M631.10 902.9V906.6M631.60 903.5V905.7M632.10 903.8V906.7M632.60 904.4V906.4M633.10 904.2V906.3M633.60 903.3V906.4M634.10 904.2V905.6M634.60 903.6V905.1M635.10 904.2V905.7M635.60 904.1V905.8M636.10 904.4V906.4M636.60 904.1V905.1M637.10 903.7V905.1M637.60 902.5V907.6M638.10 904.0V906.7M638.60 903.4V905.4M639.10 904.3V906.5M639.60 904.0V904.5M640.10 903.3V905.7M640.60 903.9V905.8M641.10 904.3V906.4M641.60 903.1V905.4M642.10 902.6V905.5" fill="none" stroke="#000" stroke-width="0.85"/>
<path d="M207.8 68.0V100.0M204.6 77.5V105.0M212.5 74.0V100.0M217.3 73.5V105.0M195.9 98.0V120.0M187.9 112.0V140.0M231.0 125.0V170.0M278.6 175.4V200.0M284.4 177.0V205.0M287.9 178.0V205.0M237.6 150.0V183.0" fill="none" stroke="#000" stroke-width="0.9"/>
<path d="M195.5 572.0V600.0M197.5 571.0V600.0M176.5 660.0V690.0" fill="none" stroke="#000" stroke-width="0.9"/>
<path d="M185.0 204.4 L190.6 194.1 L195.3 185.8 L199.9 179.2 L205.5 173.6 L212.0 169.7 L219.5 168.5 L224.1 169.4 L229.7 172.2 L235.3 177.4 L239.0 183.0 L241.8 189.5" fill="none" stroke="#555555" stroke-width="0.75" stroke-linecap="round" stroke-linejoin="round"/><path d="M217.5 168.6 L222.5 169.1" fill="none" stroke="#c05050" stroke-width="0.9" stroke-linecap="round" stroke-linejoin="round"/>
<path d="M180.5 694.0 L184.5 689.0 L188.5 684.5 L193.0 680.5 L197.5 677.8 L202.5 675.3" fill="none" stroke="#4a4a4a" stroke-width="0.8" stroke-linecap="round" stroke-linejoin="round"/>
<rect x="190.85" y="173" width="1.3" height="19.0" fill="#3cd23c"/><rect x="194.55" y="150.5" width="1.3" height="35.0" fill="#b01818"/><rect x="287.45" y="213" width="1.3" height="15.0" fill="#3cd23c"/><rect x="295.05" y="211" width="1.1" height="37.0" fill="#f0a090"/><rect x="298.25" y="216" width="1.1" height="34.0" fill="#f0a090"/><rect x="295.30" y="227" width="1.8" height="12.0" fill="#c010c0"/><rect x="300.90" y="237" width="1.2" height="9.0" fill="#3cd23c"/><rect x="340.00" y="265" width="1.0" height="40.0" fill="#f0a090"/><rect x="486.10" y="323" width="1.0" height="21.0" fill="#f0a090"/><rect x="483.3" y="334.8" width="2.4" height="2.4" fill="#c010c0"/><rect x="500.95" y="329.6" width="1.3" height="10.1" fill="#3cd23c"/><rect x="534.35" y="330" width="1.3" height="10.0" fill="#3cd23c"/><rect x="582.0" y="340.0" width="2.0" height="2.0" fill="#2020a0"/><rect x="592.0" y="341.0" width="2.0" height="2.0" fill="#3cd23c"/>
<rect x="60.00" y="899.7" width="1.4" height="4.1" fill="#c010c0"/><rect x="96.20" y="825" width="1.2" height="8.0" fill="#d83030"/><rect x="96.20" y="833" width="1.2" height="9.0" fill="#3cd23c"/><rect x="121.00" y="784" width="1.4" height="11.0" fill="#2020a0"/><rect x="138.00" y="751" width="1.2" height="7.0" fill="#d83030"/><rect x="138.00" y="758" width="1.2" height="8.0" fill="#3cd23c"/><rect x="156.60" y="734" width="1.2" height="7.0" fill="#d83030"/><rect x="156.60" y="741" width="1.2" height="6.0" fill="#3cd23c"/><rect x="162.1" y="731.1" width="1.8" height="1.8" fill="#b01818"/><rect x="187.4" y="683.4" width="1.8" height="1.8" fill="#2020a0"/><rect x="201.5" y="674.2" width="2.0" height="2.0" fill="#b01818"/><rect x="213.9" y="679.9" width="1.6" height="1.6" fill="#2020a0"/><rect x="218.3" y="684.3" width="1.6" height="1.6" fill="#b01818"/><rect x="230.3" y="702.0" width="1.6" height="1.6" fill="#3cd23c"/><rect x="235.4" y="709.8" width="1.8" height="1.8" fill="#2020a0"/><rect x="299.55" y="782" width="0.9" height="28.0" fill="#f0a090"/><rect x="319.15" y="794" width="0.9" height="31.0" fill="#f0a090"/><rect x="408.95" y="878" width="0.9" height="13.0" fill="#f0a090"/>
<rect x="375.8" y="40.8" width="260.49999999999994" height="58.900000000000006" fill="#f1f2f5" stroke="#7c86a2" stroke-width="1.2"/>
<rect x="376.3" y="41.3" width="259.49999999999994" height="9" fill="#ededf0"/>
<rect x="379.4" y="42.8" width="1.9" height="6.0" fill="#000000"/>
<text x="388.8" y="47.4" class="lg">1.raw</text>
<rect x="379.4" y="52.8" width="1.9" height="6.0" fill="#8b1010"/>
<text x="388.8" y="57.4" class="lg">PDF 53-0447 (Tune Cell) B0.47 C0.23 N0.30 Boron Carbon Nitride</text>
<rect x="379.4" y="62.8" width="1.9" height="6.0" fill="#10106e"/>
<text x="388.8" y="67.4" class="lg">PDF 51-0768 (Tune Cell) B2 C5 N2 Boron Carbon Nitride</text>
<rect x="379.4" y="72.8" width="1.9" height="6.0" fill="#10c010"/>
<text x="388.8" y="77.4" class="lg">PDF 52-0233 (Tune Cell) ( B N )0.33 C0.67 Boron Nitride Carbide</text>
<rect x="379.4" y="82.7" width="1.9" height="6.0" fill="#8e108e"/>
<text x="388.8" y="87.3" class="lg">PDF 88-2402 (Tune Cell) ( C2 ).19 ( B N ).81 Carbon Boron Nitride</text>
<rect x="379.4" y="92.7" width="1.9" height="6.0" fill="#000000"/>
<text x="388.8" y="97.3" class="lg">PDF 88-2401 (Tune Cell) ( C2 ).429 ( B N ).571 Carbon Boron Nitride</text>
<rect x="340.8" y="104.6" width="297.49999999999994" height="21.80000000000001" fill="#dcdcdc"/>
<rect x="342.3" y="106.39999999999999" width="214.7" height="18.20000000000001" fill="#c2c2c2"/>
<rect x="560.0" y="106.39999999999999" width="76.79999999999995" height="18.20000000000001" fill="#c2c2c2"/>
<rect x="340.8" y="103.75" width="298.30" height="1.7" fill="#333"/>
<rect x="340.8" y="125.55" width="298.30" height="1.7" fill="#111"/>
<rect x="340.8" y="145.20" width="298.30" height="1.6" fill="#111"/>
<rect x="340.8" y="163.20" width="298.30" height="1.6" fill="#111"/>
<rect x="340.8" y="182.80" width="298.30" height="1.6" fill="#111"/>
<rect x="340.8" y="202.20" width="298.30" height="1.6" fill="#111"/>
<rect x="340.8" y="220.80" width="298.30" height="1.6" fill="#111"/>
<rect x="557.75" y="104.6" width="1.5" height="117.00" fill="#111"/>
<rect x="637.55" y="104.6" width="1.5" height="117.80" fill="#111"/>
<rect x="340.80" y="104.6" width="0.8" height="21.80" fill="#999"/>
<text x="420.9" y="121.0" class="th" textLength="57" lengthAdjust="spacingAndGlyphs">Formula</text>
<text x="584.8" y="121.0" class="th" textLength="25.4" lengthAdjust="spacingAndGlyphs">S-Q</text>
<text x="346.5" y="141.2" class="tr" textLength="101" lengthAdjust="spacingAndGlyphs">B0.47 C0.23 N0.30</text>
<text x="583.0" y="141.3" class="tv" textLength="46.8" lengthAdjust="spacingAndGlyphs">40.94 %</text>
<text x="346.5" y="160.3" class="tr" textLength="49.4" lengthAdjust="spacingAndGlyphs">B2 C5 N2</text>
<text x="583.0" y="160.3" class="tv" textLength="46.8" lengthAdjust="spacingAndGlyphs">13.36 %</text>
<text x="346.5" y="178.5" class="tr" textLength="85.7" lengthAdjust="spacingAndGlyphs">(BN) 0.33 C0.67</text>
<text x="583.0" y="178.5" class="tv" textLength="46.8" lengthAdjust="spacingAndGlyphs">22.39 %</text>
<text x="346.5" y="197.6" class="tr" textLength="82.6" lengthAdjust="spacingAndGlyphs">(C2).19 (BN).81</text>
<text x="583.0" y="198.0" class="tv" textLength="46.8" lengthAdjust="spacingAndGlyphs">11.34 %</text>
<text x="346.5" y="217.3" class="tr" textLength="96.9" lengthAdjust="spacingAndGlyphs">(C2).429  (BN).571</text>
<text x="583.0" y="217.4" class="tv" textLength="46.8" lengthAdjust="spacingAndGlyphs">11.97 %</text>
<rect x="405.8" y="543.7" width="230.3" height="58.19999999999993" fill="#f1f2f5" stroke="#7c86a2" stroke-width="1.2"/>
<rect x="409.7" y="545.5" width="1.9" height="6.0" fill="#000000"/>
<text x="419.3" y="550.1" class="lg">1.raw</text>
<rect x="409.7" y="555.2" width="1.9" height="6.0" fill="#8b1010"/>
<text x="419.3" y="559.8" class="lg">PDF 44-0558 (Tune Cell) C60 buckminsterfullerene | Carbon</text>
<rect x="409.7" y="565.1" width="1.9" height="6.0" fill="#10106e"/>
<text x="419.3" y="569.7" class="lg">PDF 89-8489 (Tune Cell) C Graphite - theoretical</text>
<rect x="409.7" y="575.1" width="1.9" height="6.0" fill="#10c010"/>
<text x="419.3" y="579.7" class="lg">PDF 81-2220 (Tune Cell) C60 Carbon</text>
<rect x="409.7" y="585.0" width="1.9" height="6.0" fill="#8e108e"/>
<text x="419.3" y="589.6" class="lg">PDF 74-2329 (Tune Cell) C Graphite nitrate</text>
<rect x="409.7" y="594.9" width="1.9" height="6.0" fill="#000000"/>
<text x="419.3" y="599.5" class="lg">PDF 82-0505 (Tune Cell) C60 Carbon</text>
<rect x="333.7" y="611.0" width="303.8" height="18.600000000000023" fill="#dcdcdc"/>
<rect x="335.2" y="612.8" width="220.2" height="15.000000000000023" fill="#c2c2c2"/>
<rect x="558.4" y="612.8" width="77.60000000000002" height="15.000000000000023" fill="#c2c2c2"/>
<rect x="333.7" y="610.15" width="304.60" height="1.7" fill="#333"/>
<rect x="333.7" y="628.75" width="304.60" height="1.7" fill="#111"/>
<rect x="333.7" y="649.50" width="304.60" height="1.6" fill="#111"/>
<rect x="333.7" y="668.30" width="304.60" height="1.6" fill="#111"/>
<rect x="333.7" y="688.10" width="304.60" height="1.6" fill="#111"/>
<rect x="333.7" y="708.50" width="304.60" height="1.6" fill="#111"/>
<rect x="333.7" y="727.60" width="304.60" height="1.6" fill="#111"/>
<rect x="556.15" y="611.0" width="1.5" height="117.40" fill="#111"/>
<rect x="636.75" y="611.0" width="1.5" height="118.20" fill="#111"/>
<rect x="332.95" y="611.0" width="1.5" height="118.20" fill="#111"/>
<text x="381.7" y="624.9" class="th" textLength="75.0" lengthAdjust="spacingAndGlyphs">Compound</text>
<text x="466.6" y="624.9" class="th" textLength="42.4" lengthAdjust="spacingAndGlyphs">Name</text>
<text x="583.4" y="624.9" class="th" textLength="26.1" lengthAdjust="spacingAndGlyphs">S-Q</text>
<text x="340.0" y="644.3" class="tr" textLength="167.7" lengthAdjust="spacingAndGlyphs">Buckminsterfullerene  Carbon</text>
<text x="581.5" y="644.7" class="tv" textLength="47.9" lengthAdjust="spacingAndGlyphs">28.12 %</text>
<text x="340.0" y="664.6" class="trs" textLength="118.8" lengthAdjust="spacingAndGlyphs">Graphite theoretical</text>
<text x="586.0" y="665.1" class="tv" textLength="43.4" lengthAdjust="spacingAndGlyphs">22.04%</text>
<text x="340.0" y="683.4" class="tr" textLength="40.5" lengthAdjust="spacingAndGlyphs">Carbon</text>
<text x="581.5" y="683.4" class="tv" textLength="47.9" lengthAdjust="spacingAndGlyphs">34.66 %</text>
<text x="340.0" y="704.0" class="tr" textLength="92.0" lengthAdjust="spacingAndGlyphs">Graphite nitrate</text>
<text x="588.0" y="703.3" class="tv" textLength="41.4" lengthAdjust="spacingAndGlyphs">1.82 %</text>
<text x="340.0" y="723.6" class="tr" textLength="39.3" lengthAdjust="spacingAndGlyphs">carbon</text>
<text x="581.5" y="723.7" class="tv" textLength="47.9" lengthAdjust="spacingAndGlyphs">13.36 %</text>
<text x="311.3" y="13.0" class="ttl" style="font-size:17.5px">(a)</text>
<text x="310.0" y="515.3" class="ttl" style="font-size:18.6px">(b)</text>
</svg>
</body></html>
